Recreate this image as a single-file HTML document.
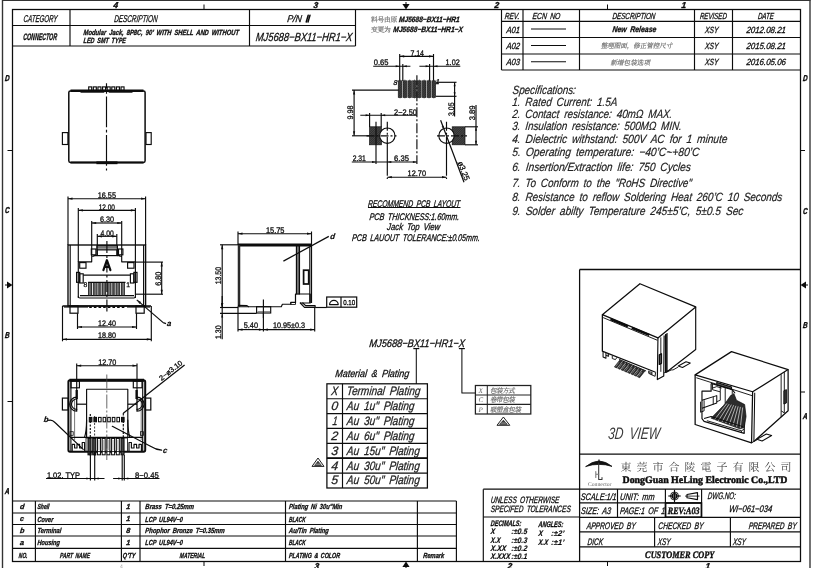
<!DOCTYPE html>
<html><head><meta charset="utf-8"><title>MJ5688-BX11-HR1-X</title>
<style>
html,body{margin:0;padding:0;background:#fff;}
body{width:814px;height:568px;overflow:hidden;font-family:"Liberation Sans",sans-serif;}
svg{display:block;position:absolute;left:0;top:0;filter:grayscale(1);}
text{font-family:"Liberation Sans",sans-serif;}
</style></head><body>
<svg width="814" height="568" viewBox="0 0 814 568" shape-rendering="geometricPrecision" text-rendering="geometricPrecision">
<rect x="0" y="0" width="814" height="568" fill="#ffffff"/>
<line x1="2.5" y1="0" x2="2.5" y2="568" stroke="#333" stroke-width="1.38" />
<line x1="810" y1="0" x2="810" y2="568" stroke="#333" stroke-width="1.38" />
<line x1="2" y1="0.3" x2="810.5" y2="0.3" stroke="#333" stroke-width="1.38" />
<rect x="12.5" y="9.5" width="788.0" height="552.0" fill="none" stroke="#0c0c0c" stroke-width="1.26"/>
<line x1="204" y1="4.5" x2="204" y2="9.5" stroke="#0c0c0c" stroke-width="1.03" />
<line x1="607.5" y1="4.5" x2="607.5" y2="9.5" stroke="#0c0c0c" stroke-width="1.03" />
<polygon points="406,9.5 402.4,4.0 409.6,4.0" fill="#0c0c0c"/>
<line x1="406" y1="2" x2="406" y2="6" stroke="#0c0c0c" stroke-width="1.03" />
<line x1="204" y1="561.5" x2="204" y2="566" stroke="#0c0c0c" stroke-width="1.03" />
<line x1="607.5" y1="561.5" x2="607.5" y2="566" stroke="#0c0c0c" stroke-width="1.03" />
<polygon points="406,561.5 402.4,567.0 409.6,567.0" fill="#0c0c0c"/>
<line x1="406" y1="564" x2="406" y2="568" stroke="#0c0c0c" stroke-width="1.03" />
<line x1="7.5" y1="150.5" x2="12.5" y2="150.5" stroke="#0c0c0c" stroke-width="1.03" />
<line x1="7.5" y1="401.5" x2="12.5" y2="401.5" stroke="#0c0c0c" stroke-width="1.03" />
<line x1="800.5" y1="150.5" x2="805" y2="150.5" stroke="#0c0c0c" stroke-width="1.03" />
<line x1="800.5" y1="392" x2="805" y2="392" stroke="#0c0c0c" stroke-width="1.03" />
<polygon points="12.5,285 7.0,281.6 7.0,288.4" fill="#0c0c0c"/>
<line x1="5" y1="285" x2="9" y2="285" stroke="#0c0c0c" stroke-width="1.03" />
<polygon points="800.5,285 806.0,281.6 806.0,288.4" fill="#0c0c0c"/>
<line x1="804" y1="285" x2="808" y2="285" stroke="#0c0c0c" stroke-width="1.03" />
<text x="113.7" y="8" font-size="8.6" font-weight="bold" font-style="italic" fill="#0c0c0c" text-anchor="start" textLength="4.6" lengthAdjust="spacingAndGlyphs" transform="translate(113.7 4.9) skewX(-6) translate(-113.7 -4.9)" xml:space="preserve"  word-spacing="1.89" stroke="#0c0c0c" stroke-width="0.4">4</text>
<text x="313.7" y="8" font-size="8.6" font-weight="bold" font-style="italic" fill="#0c0c0c" text-anchor="start" textLength="4.6" lengthAdjust="spacingAndGlyphs" transform="translate(313.7 4.9) skewX(-6) translate(-313.7 -4.9)" xml:space="preserve"  word-spacing="1.89" stroke="#0c0c0c" stroke-width="0.4">3</text>
<text x="494.7" y="8" font-size="8.6" font-weight="bold" font-style="italic" fill="#0c0c0c" text-anchor="start" textLength="4.6" lengthAdjust="spacingAndGlyphs" transform="translate(494.7 4.9) skewX(-6) translate(-494.7 -4.9)" xml:space="preserve"  word-spacing="1.89" stroke="#0c0c0c" stroke-width="0.4">2</text>
<text x="681.7" y="8" font-size="8.6" font-weight="bold" font-style="italic" fill="#0c0c0c" text-anchor="start" textLength="4.6" lengthAdjust="spacingAndGlyphs" transform="translate(681.7 4.9) skewX(-6) translate(-681.7 -4.9)" xml:space="preserve"  word-spacing="1.89" stroke="#0c0c0c" stroke-width="0.4">1</text>
<text x="314.7" y="568.6" font-size="8.6" font-weight="bold" font-style="italic" fill="#0c0c0c" text-anchor="start" textLength="4.6" lengthAdjust="spacingAndGlyphs" transform="translate(314.7 565.5) skewX(-6) translate(-314.7 -565.5)" xml:space="preserve"  word-spacing="1.89" stroke="#0c0c0c" stroke-width="0.4">3</text>
<text x="507.7" y="568.6" font-size="8.6" font-weight="bold" font-style="italic" fill="#0c0c0c" text-anchor="start" textLength="4.6" lengthAdjust="spacingAndGlyphs" transform="translate(507.7 565.5) skewX(-6) translate(-507.7 -565.5)" xml:space="preserve"  word-spacing="1.89" stroke="#0c0c0c" stroke-width="0.4">2</text>
<text x="705.7" y="568.6" font-size="8.6" font-weight="bold" font-style="italic" fill="#0c0c0c" text-anchor="start" textLength="4.6" lengthAdjust="spacingAndGlyphs" transform="translate(705.7 565.5) skewX(-6) translate(-705.7 -565.5)" xml:space="preserve"  word-spacing="1.89" stroke="#0c0c0c" stroke-width="0.4">1</text>
<text x="5.0" y="80.5" font-size="8.6" font-weight="bold" font-style="italic" fill="#0c0c0c" text-anchor="start" textLength="4.6" lengthAdjust="spacingAndGlyphs" transform="translate(5.0 77.4) skewX(-6) translate(-5.0 -77.4)" xml:space="preserve"  word-spacing="1.89" stroke="#0c0c0c" stroke-width="0.4">D</text>
<text x="5.0" y="213" font-size="8.6" font-weight="bold" font-style="italic" fill="#0c0c0c" text-anchor="start" textLength="4.6" lengthAdjust="spacingAndGlyphs" transform="translate(5.0 209.9) skewX(-6) translate(-5.0 -209.9)" xml:space="preserve"  word-spacing="1.89" stroke="#0c0c0c" stroke-width="0.4">C</text>
<text x="5.0" y="337.5" font-size="8.6" font-weight="bold" font-style="italic" fill="#0c0c0c" text-anchor="start" textLength="4.6" lengthAdjust="spacingAndGlyphs" transform="translate(5.0 334.4) skewX(-6) translate(-5.0 -334.4)" xml:space="preserve"  word-spacing="1.89" stroke="#0c0c0c" stroke-width="0.4">B</text>
<text x="5.0" y="494" font-size="8.6" font-weight="bold" font-style="italic" fill="#0c0c0c" text-anchor="start" textLength="4.6" lengthAdjust="spacingAndGlyphs" transform="translate(5.0 490.9) skewX(-6) translate(-5.0 -490.9)" xml:space="preserve"  word-spacing="1.89" stroke="#0c0c0c" stroke-width="0.4">A</text>
<text x="803.0" y="80.5" font-size="8.6" font-weight="bold" font-style="italic" fill="#0c0c0c" text-anchor="start" textLength="4.6" lengthAdjust="spacingAndGlyphs" transform="translate(803.0 77.4) skewX(-6) translate(-803.0 -77.4)" xml:space="preserve"  word-spacing="1.89" stroke="#0c0c0c" stroke-width="0.4">D</text>
<text x="803.0" y="213.5" font-size="8.6" font-weight="bold" font-style="italic" fill="#0c0c0c" text-anchor="start" textLength="4.6" lengthAdjust="spacingAndGlyphs" transform="translate(803.0 210.4) skewX(-6) translate(-803.0 -210.4)" xml:space="preserve"  word-spacing="1.89" stroke="#0c0c0c" stroke-width="0.4">C</text>
<text x="803.0" y="328" font-size="8.6" font-weight="bold" font-style="italic" fill="#0c0c0c" text-anchor="start" textLength="4.6" lengthAdjust="spacingAndGlyphs" transform="translate(803.0 324.9) skewX(-6) translate(-803.0 -324.9)" xml:space="preserve"  word-spacing="1.89" stroke="#0c0c0c" stroke-width="0.4">B</text>
<text x="803.0" y="419" font-size="8.6" font-weight="bold" font-style="italic" fill="#0c0c0c" text-anchor="start" textLength="4.6" lengthAdjust="spacingAndGlyphs" transform="translate(803.0 415.9) skewX(-6) translate(-803.0 -415.9)" xml:space="preserve"  word-spacing="1.89" stroke="#0c0c0c" stroke-width="0.4">A</text>
<line x1="12.5" y1="25.5" x2="355.5" y2="25.5" stroke="#0c0c0c" stroke-width="1.15" />
<line x1="12.5" y1="46" x2="355.5" y2="46" stroke="#0c0c0c" stroke-width="1.15" />
<line x1="70" y1="9.5" x2="70" y2="46" stroke="#0c0c0c" stroke-width="1.15" />
<line x1="249.5" y1="9.5" x2="249.5" y2="46" stroke="#0c0c0c" stroke-width="1.15" />
<line x1="355.5" y1="9.5" x2="355.5" y2="46" stroke="#0c0c0c" stroke-width="1.15" />
<text x="23.7" y="22.24" font-size="9.89" font-weight="normal" font-style="italic" fill="#0c0c0c" text-anchor="start" textLength="33.8" lengthAdjust="spacingAndGlyphs" transform="translate(23.7 18.68) skewX(-6) translate(-23.7 -18.68)" xml:space="preserve"  word-spacing="2.18" stroke="#0c0c0c" stroke-width="0.28">CATEGORY</text>
<text x="114.4" y="22.24" font-size="9.89" font-weight="normal" font-style="italic" fill="#0c0c0c" text-anchor="start" textLength="43.3" lengthAdjust="spacingAndGlyphs" transform="translate(114.4 18.68) skewX(-6) translate(-114.4 -18.68)" xml:space="preserve"  word-spacing="2.18" stroke="#0c0c0c" stroke-width="0.28">DESCRIPTION</text>
<text x="287.3" y="22.24" font-size="9.89" font-weight="normal" font-style="italic" fill="#0c0c0c" text-anchor="start" textLength="14.5" lengthAdjust="spacingAndGlyphs" transform="translate(287.3 18.68) skewX(-6) translate(-287.3 -18.68)" xml:space="preserve"  word-spacing="2.18" stroke="#0c0c0c" stroke-width="0.28">P/N</text>
<path d="M306.2 22 L308.2 15.2 M308 22 L310 15.2" fill="none" stroke="#0c0c0c" stroke-width="1.49" stroke-linejoin="round" stroke-linecap="round"/>
<text x="23.3" y="40.18" font-size="9.43" font-weight="bold" font-style="italic" fill="#0c0c0c" text-anchor="start" textLength="33.8" lengthAdjust="spacingAndGlyphs" transform="translate(23.3 36.79) skewX(-6) translate(-23.3 -36.79)" xml:space="preserve"  word-spacing="2.07" stroke="#0c0c0c" stroke-width="0.3">CONNECTOR</text>
<text x="83.6" y="35.12" font-size="7.59" font-weight="bold" font-style="italic" fill="#0c0c0c" text-anchor="start" textLength="155.4" lengthAdjust="spacingAndGlyphs" transform="translate(83.6 32.39) skewX(-6) translate(-83.6 -32.39)" xml:space="preserve"  word-spacing="1.67" stroke="#0c0c0c" stroke-width="0.3">Modular Jack, 8P8C, 90’ WITH SHELL AND WITHOUT</text>
<text x="83.6" y="43.12" font-size="7.59" font-weight="bold" font-style="italic" fill="#0c0c0c" text-anchor="start" textLength="42.4" lengthAdjust="spacingAndGlyphs" transform="translate(83.6 40.39) skewX(-6) translate(-83.6 -40.39)" xml:space="preserve"  word-spacing="1.67" stroke="#0c0c0c" stroke-width="0.3">LED SMT TYPE</text>
<text x="256" y="40.7" font-size="11.73" font-weight="normal" font-style="italic" fill="#0c0c0c" text-anchor="start" textLength="96.5" lengthAdjust="spacingAndGlyphs" transform="translate(256 36.48) skewX(-6) translate(-256 -36.48)" xml:space="preserve"  word-spacing="2.58" stroke="#0c0c0c" stroke-width="0.28">MJ5688−BX11−HR1−X</text>
<text x="371 377.5 384 390.5" y="22" font-size="6.8" fill="#777" stroke="#777" stroke-width="0.2" style="font-family:'Liberation Serif','Noto Serif CJK SC',serif">料号由原</text>
<text x="399" y="22.2" font-size="7.82" font-weight="bold" font-style="italic" fill="#0c0c0c" text-anchor="start" textLength="60.8" lengthAdjust="spacingAndGlyphs" transform="translate(399 19.38) skewX(-6) translate(-399 -19.38)" xml:space="preserve"  word-spacing="1.72" stroke="#0c0c0c" stroke-width="0.3">MJ5688−BX11−HR1</text>
<text x="371 377.5 384" y="31.6" font-size="6.8" fill="#777" stroke="#777" stroke-width="0.2" style="font-family:'Liberation Serif','Noto Serif CJK SC',serif">变更为</text>
<text x="393.4" y="31.8" font-size="7.82" font-weight="bold" font-style="italic" fill="#0c0c0c" text-anchor="start" textLength="69.6" lengthAdjust="spacingAndGlyphs" transform="translate(393.4 28.98) skewX(-6) translate(-393.4 -28.98)" xml:space="preserve"  word-spacing="1.72" stroke="#0c0c0c" stroke-width="0.3">MJ5688−BX11−HR1−X</text>
<line x1="501.5" y1="9.5" x2="501.5" y2="70" stroke="#0c0c0c" stroke-width="1.15" />
<line x1="501.5" y1="70" x2="800.5" y2="70" stroke="#0c0c0c" stroke-width="1.15" />
<line x1="501.5" y1="21.3" x2="800.5" y2="21.3" stroke="#0c0c0c" stroke-width="1.15" />
<line x1="501.5" y1="37.5" x2="800.5" y2="37.5" stroke="#0c0c0c" stroke-width="1.15" />
<line x1="501.5" y1="54" x2="800.5" y2="54" stroke="#0c0c0c" stroke-width="1.15" />
<line x1="523" y1="9.5" x2="523" y2="70" stroke="#0c0c0c" stroke-width="1.15" />
<line x1="579.5" y1="9.5" x2="579.5" y2="70" stroke="#0c0c0c" stroke-width="1.15" />
<line x1="694.5" y1="9.5" x2="694.5" y2="70" stroke="#0c0c0c" stroke-width="1.15" />
<line x1="732.5" y1="9.5" x2="732.5" y2="70" stroke="#0c0c0c" stroke-width="1.15" />
<text x="504.8" y="19.13" font-size="8.74" font-weight="normal" font-style="italic" fill="#0c0c0c" text-anchor="start" textLength="14.9" lengthAdjust="spacingAndGlyphs" transform="translate(504.8 15.98) skewX(-6) translate(-504.8 -15.98)" xml:space="preserve"  word-spacing="1.92" stroke="#0c0c0c" stroke-width="0.28">REV.</text>
<text x="532.5" y="19.13" font-size="8.74" font-weight="normal" font-style="italic" fill="#0c0c0c" text-anchor="start" textLength="28.0" lengthAdjust="spacingAndGlyphs" transform="translate(532.5 15.98) skewX(-6) translate(-532.5 -15.98)" xml:space="preserve"  word-spacing="1.92" stroke="#0c0c0c" stroke-width="0.28">ECN NO</text>
<text x="612.5" y="19.13" font-size="8.74" font-weight="normal" font-style="italic" fill="#0c0c0c" text-anchor="start" textLength="43.0" lengthAdjust="spacingAndGlyphs" transform="translate(612.5 15.98) skewX(-6) translate(-612.5 -15.98)" xml:space="preserve"  word-spacing="1.92" stroke="#0c0c0c" stroke-width="0.28">DESCRIPTION</text>
<text x="700" y="19.13" font-size="8.74" font-weight="normal" font-style="italic" fill="#0c0c0c" text-anchor="start" textLength="27" lengthAdjust="spacingAndGlyphs" transform="translate(700 15.98) skewX(-6) translate(-700 -15.98)" xml:space="preserve"  word-spacing="1.92" stroke="#0c0c0c" stroke-width="0.28">REVISED</text>
<text x="758" y="19.13" font-size="8.74" font-weight="normal" font-style="italic" fill="#0c0c0c" text-anchor="start" textLength="16" lengthAdjust="spacingAndGlyphs" transform="translate(758 15.98) skewX(-6) translate(-758 -15.98)" xml:space="preserve"  word-spacing="1.92" stroke="#0c0c0c" stroke-width="0.28">DATE</text>
<text x="506.5" y="32.71" font-size="8.97" font-weight="normal" font-style="italic" fill="#0c0c0c" text-anchor="start" textLength="13.5" lengthAdjust="spacingAndGlyphs" transform="translate(506.5 29.48) skewX(-6) translate(-506.5 -29.48)" xml:space="preserve"  word-spacing="1.97" stroke="#0c0c0c" stroke-width="0.28">A01</text>
<line x1="531" y1="29.0" x2="566" y2="29.0" stroke="#0c0c0c" stroke-width="1.15" />
<text x="705" y="32.71" font-size="8.97" font-weight="normal" font-style="italic" fill="#0c0c0c" text-anchor="start" textLength="13.5" lengthAdjust="spacingAndGlyphs" transform="translate(705 29.48) skewX(-6) translate(-705 -29.48)" xml:space="preserve"  word-spacing="1.97" stroke="#0c0c0c" stroke-width="0.28">XSY</text>
<text x="746.5" y="32.71" font-size="8.97" font-weight="normal" font-style="italic" fill="#0c0c0c" text-anchor="start" textLength="39.5" lengthAdjust="spacingAndGlyphs" transform="translate(746.5 29.48) skewX(-6) translate(-746.5 -29.48)" xml:space="preserve"  word-spacing="1.97" stroke="#0c0c0c" stroke-width="0.28">2012.08.21</text>
<text x="506.5" y="49.21" font-size="8.97" font-weight="normal" font-style="italic" fill="#0c0c0c" text-anchor="start" textLength="13.5" lengthAdjust="spacingAndGlyphs" transform="translate(506.5 45.98) skewX(-6) translate(-506.5 -45.98)" xml:space="preserve"  word-spacing="1.97" stroke="#0c0c0c" stroke-width="0.28">A02</text>
<line x1="531" y1="45.5" x2="566" y2="45.5" stroke="#0c0c0c" stroke-width="1.15" />
<text x="705" y="49.21" font-size="8.97" font-weight="normal" font-style="italic" fill="#0c0c0c" text-anchor="start" textLength="13.5" lengthAdjust="spacingAndGlyphs" transform="translate(705 45.98) skewX(-6) translate(-705 -45.98)" xml:space="preserve"  word-spacing="1.97" stroke="#0c0c0c" stroke-width="0.28">XSY</text>
<text x="746.5" y="49.21" font-size="8.97" font-weight="normal" font-style="italic" fill="#0c0c0c" text-anchor="start" textLength="39.5" lengthAdjust="spacingAndGlyphs" transform="translate(746.5 45.98) skewX(-6) translate(-746.5 -45.98)" xml:space="preserve"  word-spacing="1.97" stroke="#0c0c0c" stroke-width="0.28">2015.08.21</text>
<text x="506.5" y="65.41" font-size="8.97" font-weight="normal" font-style="italic" fill="#0c0c0c" text-anchor="start" textLength="13.5" lengthAdjust="spacingAndGlyphs" transform="translate(506.5 62.18) skewX(-6) translate(-506.5 -62.18)" xml:space="preserve"  word-spacing="1.97" stroke="#0c0c0c" stroke-width="0.28">A03</text>
<line x1="531" y1="61.7" x2="566" y2="61.7" stroke="#0c0c0c" stroke-width="1.15" />
<text x="705" y="65.41" font-size="8.97" font-weight="normal" font-style="italic" fill="#0c0c0c" text-anchor="start" textLength="13.5" lengthAdjust="spacingAndGlyphs" transform="translate(705 62.18) skewX(-6) translate(-705 -62.18)" xml:space="preserve"  word-spacing="1.97" stroke="#0c0c0c" stroke-width="0.28">XSY</text>
<text x="746.5" y="65.41" font-size="8.97" font-weight="normal" font-style="italic" fill="#0c0c0c" text-anchor="start" textLength="39.5" lengthAdjust="spacingAndGlyphs" transform="translate(746.5 62.18) skewX(-6) translate(-746.5 -62.18)" xml:space="preserve"  word-spacing="1.97" stroke="#0c0c0c" stroke-width="0.28">2016.05.06</text>
<text x="612.5" y="32.26" font-size="8.28" font-weight="bold" font-style="italic" fill="#0c0c0c" text-anchor="start" textLength="44.0" lengthAdjust="spacingAndGlyphs" transform="translate(612.5 29.28) skewX(-6) translate(-612.5 -29.28)" xml:space="preserve"  word-spacing="1.82" stroke="#0c0c0c" stroke-width="0.3">New Release</text>
<text transform="translate(600.8 48.4) skewX(-12)" x="0 6.5 13 19.5 26 32.5 39 45.5 52 58.5 65" y="0" font-size="6.6" fill="#777" stroke="#777" stroke-width="0.2" style="font-family:'Liberation Serif','Noto Serif CJK SC',serif">整理图面，修正管控尺寸</text>
<text transform="translate(610.4 64.8) skewX(-12)" x="0 6.6 13.2 19.8 26.4 33" y="0" font-size="6.6" fill="#777" stroke="#777" stroke-width="0.2" style="font-family:'Liberation Serif','Noto Serif CJK SC',serif">新增包装选项</text>
<text x="512.8" y="94.06" font-size="11.9" font-weight="normal" font-style="italic" fill="#222" text-anchor="start" textLength="63.2" lengthAdjust="spacingAndGlyphs" transform="translate(512.8 89.78) skewX(-6) translate(-512.8 -89.78)" xml:space="preserve"  word-spacing="2.62" stroke="#222" stroke-width="0.2">Specifications:</text>
<text x="512.4" y="106.16" font-size="11.9" font-weight="normal" font-style="italic" fill="#222" text-anchor="start" textLength="105.1" lengthAdjust="spacingAndGlyphs" transform="translate(512.4 101.88) skewX(-6) translate(-512.4 -101.88)" xml:space="preserve"  word-spacing="2.62" stroke="#222" stroke-width="0.2">1. Rated Current: 1.5A</text>
<text x="512.4" y="117.96" font-size="11.9" font-weight="normal" font-style="italic" fill="#222" text-anchor="start" textLength="160.1" lengthAdjust="spacingAndGlyphs" transform="translate(512.4 113.68) skewX(-6) translate(-512.4 -113.68)" xml:space="preserve"  word-spacing="2.62" stroke="#222" stroke-width="0.2">2. Contact resistance: 40mΩ MAX.</text>
<text x="512.4" y="130.16" font-size="11.9" font-weight="normal" font-style="italic" fill="#222" text-anchor="start" textLength="169.6" lengthAdjust="spacingAndGlyphs" transform="translate(512.4 125.88) skewX(-6) translate(-512.4 -125.88)" xml:space="preserve"  word-spacing="2.62" stroke="#222" stroke-width="0.2">3. Insulation resistance: 500MΩ MIN.</text>
<text x="512.4" y="142.86" font-size="11.9" font-weight="normal" font-style="italic" fill="#222" text-anchor="start" textLength="215.1" lengthAdjust="spacingAndGlyphs" transform="translate(512.4 138.58) skewX(-6) translate(-512.4 -138.58)" xml:space="preserve"  word-spacing="2.62" stroke="#222" stroke-width="0.2">4. Dielectric withstand: 500V AC for 1 minute</text>
<text x="512.4" y="155.56" font-size="11.9" font-weight="normal" font-style="italic" fill="#222" text-anchor="start" textLength="187.1" lengthAdjust="spacingAndGlyphs" transform="translate(512.4 151.28) skewX(-6) translate(-512.4 -151.28)" xml:space="preserve"  word-spacing="2.62" stroke="#222" stroke-width="0.2">5. Operating temperature: −40’C~+80’C</text>
<text x="512.4" y="171.06" font-size="11.9" font-weight="normal" font-style="italic" fill="#222" text-anchor="start" textLength="178.6" lengthAdjust="spacingAndGlyphs" transform="translate(512.4 166.78) skewX(-6) translate(-512.4 -166.78)" xml:space="preserve"  word-spacing="2.62" stroke="#222" stroke-width="0.2">6. Insertion/Extraction life: 750 Cycles</text>
<text x="512.4" y="186.56" font-size="11.9" font-weight="normal" font-style="italic" fill="#222" text-anchor="start" textLength="179.6" lengthAdjust="spacingAndGlyphs" transform="translate(512.4 182.28) skewX(-6) translate(-512.4 -182.28)" xml:space="preserve"  word-spacing="2.62" stroke="#222" stroke-width="0.2">7. To Conform to the &quot;RoHS Directive&quot;</text>
<text x="512.4" y="200.86" font-size="11.9" font-weight="normal" font-style="italic" fill="#222" text-anchor="start" textLength="270.1" lengthAdjust="spacingAndGlyphs" transform="translate(512.4 196.58) skewX(-6) translate(-512.4 -196.58)" xml:space="preserve"  word-spacing="2.62" stroke="#222" stroke-width="0.2">8. Resistance to reflow Soldering Heat 260’C 10 Seconds</text>
<text x="512.4" y="214.56" font-size="11.9" font-weight="normal" font-style="italic" fill="#222" text-anchor="start" textLength="231.1" lengthAdjust="spacingAndGlyphs" transform="translate(512.4 210.28) skewX(-6) translate(-512.4 -210.28)" xml:space="preserve"  word-spacing="2.62" stroke="#222" stroke-width="0.2">9. Solder abilty Temperature 245±5’C, 5±0.5 Sec</text>
<text x="368.1" y="206.86" font-size="9.66" font-weight="normal" font-style="italic" fill="#0c0c0c" text-anchor="start" textLength="92.2" lengthAdjust="spacingAndGlyphs" transform="translate(368.1 203.38) skewX(-6) translate(-368.1 -203.38)" xml:space="preserve"  word-spacing="2.13" stroke="#0c0c0c" stroke-width="0.28">RECOMMEND PCB LAYOUT</text>
<line x1="368" y1="207.5" x2="460.5" y2="207.5" stroke="#0c0c0c" stroke-width="1.03" />
<text x="369.5" y="219.56" font-size="9.66" font-weight="normal" font-style="italic" fill="#0c0c0c" text-anchor="start" textLength="89.8" lengthAdjust="spacingAndGlyphs" transform="translate(369.5 216.08) skewX(-6) translate(-369.5 -216.08)" xml:space="preserve"  word-spacing="2.13" stroke="#0c0c0c" stroke-width="0.28">PCB THICKNESS:1.60mm.</text>
<text x="387.2" y="229.86" font-size="9.66" font-weight="normal" font-style="italic" fill="#0c0c0c" text-anchor="start" textLength="53.0" lengthAdjust="spacingAndGlyphs" transform="translate(387.2 226.38) skewX(-6) translate(-387.2 -226.38)" xml:space="preserve"  word-spacing="2.13" stroke="#0c0c0c" stroke-width="0.28">Jack Top View</text>
<text x="352.2" y="240.66" font-size="9.66" font-weight="normal" font-style="italic" fill="#0c0c0c" text-anchor="start" textLength="127.8" lengthAdjust="spacingAndGlyphs" transform="translate(352.2 237.18) skewX(-6) translate(-352.2 -237.18)" xml:space="preserve"  word-spacing="2.13" stroke="#0c0c0c" stroke-width="0.28">PCB LAUOUT TOLERANCE:±0.05mm.</text>
<rect x="68.8" y="90.9" width="76.3" height="71.5" rx="1.6" fill="none" stroke="#0c0c0c" stroke-width="1.5"/>
<line x1="70.5" y1="90.7" x2="143.5" y2="90.7" stroke="#0c0c0c" stroke-width="2.53" />
<line x1="70.5" y1="162.5" x2="143.5" y2="162.5" stroke="#0c0c0c" stroke-width="1.84" />
<line x1="80.5" y1="91.8" x2="104.3" y2="91.8" stroke="#0c0c0c" stroke-width="1.84" />
<line x1="108.7" y1="91.8" x2="132.5" y2="91.8" stroke="#0c0c0c" stroke-width="1.84" />
<line x1="96.4" y1="162.8" x2="117.5" y2="162.8" stroke="#0c0c0c" stroke-width="2.76" />
<rect x="88.7" y="86.9" width="3.0" height="3.5" fill="none" stroke="#0c0c0c" stroke-width="1.15"/>
<rect x="93.32000000000001" y="86.9" width="3.0" height="3.5" fill="none" stroke="#0c0c0c" stroke-width="1.15"/>
<rect x="97.94" y="86.9" width="3.0" height="3.5" fill="none" stroke="#0c0c0c" stroke-width="1.15"/>
<rect x="102.56" y="86.9" width="3.0" height="3.5" fill="none" stroke="#0c0c0c" stroke-width="1.15"/>
<rect x="107.18" y="86.9" width="3.0" height="3.5" fill="none" stroke="#0c0c0c" stroke-width="1.15"/>
<rect x="111.80000000000001" y="86.9" width="3.0" height="3.5" fill="none" stroke="#0c0c0c" stroke-width="1.15"/>
<rect x="116.42" y="86.9" width="3.0" height="3.5" fill="none" stroke="#0c0c0c" stroke-width="1.15"/>
<rect x="121.04" y="86.9" width="3.0" height="3.5" fill="none" stroke="#0c0c0c" stroke-width="1.15"/>
<rect x="62.4" y="132.6" width="5.5" height="11.9" fill="none" stroke="#0c0c0c" stroke-width="1.15"/>
<rect x="146.0" y="132.6" width="5.2" height="11.9" fill="none" stroke="#0c0c0c" stroke-width="1.15"/>
<line x1="106.5" y1="83.3" x2="106.5" y2="170.5" stroke="#0c0c0c" stroke-width="1.15" stroke-dasharray="30.8 2.6 2.6 2.6" stroke-dashoffset="25.5"/>
<line x1="68" y1="198.7" x2="145.6" y2="198.7" stroke="#0c0c0c" stroke-width="1.15" />
<polygon points="68,198.7 72.5,197.6 72.5,199.79999999999998" fill="#0c0c0c"/>
<polygon points="145.6,198.7 141.1,197.6 141.1,199.79999999999998" fill="#0c0c0c"/>
<text x="97.7" y="198.06" font-size="8.0" font-weight="normal" font-style="normal" fill="#0c0c0c" text-anchor="start" textLength="18.3" lengthAdjust="spacingAndGlyphs" xml:space="preserve"  stroke="#0c0c0c" stroke-width="0.3">16.55</text>
<line x1="78.3" y1="210.3" x2="135.4" y2="210.3" stroke="#0c0c0c" stroke-width="1.15" />
<polygon points="78.3,210.3 82.8,209.20000000000002 82.8,211.4" fill="#0c0c0c"/>
<polygon points="135.4,210.3 130.9,209.20000000000002 130.9,211.4" fill="#0c0c0c"/>
<text x="98.7" y="209.66" font-size="8.0" font-weight="normal" font-style="normal" fill="#0c0c0c" text-anchor="start" textLength="16.3" lengthAdjust="spacingAndGlyphs" xml:space="preserve"  stroke="#0c0c0c" stroke-width="0.3">12.00</text>
<line x1="91.7" y1="223" x2="121.7" y2="223" stroke="#0c0c0c" stroke-width="1.15" />
<polygon points="91.7,223 96.2,221.9 96.2,224.1" fill="#0c0c0c"/>
<polygon points="121.7,223 117.2,221.9 117.2,224.1" fill="#0c0c0c"/>
<text x="99.9" y="222.36" font-size="8.0" font-weight="normal" font-style="normal" fill="#0c0c0c" text-anchor="start" textLength="14.1" lengthAdjust="spacingAndGlyphs" xml:space="preserve"  stroke="#0c0c0c" stroke-width="0.3">6.30</text>
<line x1="97.3" y1="236.3" x2="116.8" y2="236.3" stroke="#0c0c0c" stroke-width="1.15" />
<polygon points="97.3,236.3 101.8,235.20000000000002 101.8,237.4" fill="#0c0c0c"/>
<polygon points="116.8,236.3 112.3,235.20000000000002 112.3,237.4" fill="#0c0c0c"/>
<text x="100.6" y="235.66" font-size="8.0" font-weight="normal" font-style="normal" fill="#0c0c0c" text-anchor="start" textLength="13.2" lengthAdjust="spacingAndGlyphs" xml:space="preserve"  stroke="#0c0c0c" stroke-width="0.3">4.00</text>
<line x1="68" y1="196.5" x2="68" y2="245" stroke="#0c0c0c" stroke-width="1.15" />
<line x1="145.6" y1="196.5" x2="145.6" y2="245" stroke="#0c0c0c" stroke-width="1.15" />
<line x1="78.3" y1="208" x2="78.3" y2="262" stroke="#0c0c0c" stroke-width="1.15" />
<line x1="135.4" y1="208" x2="135.4" y2="262" stroke="#0c0c0c" stroke-width="1.15" />
<line x1="91.7" y1="221" x2="91.7" y2="256" stroke="#0c0c0c" stroke-width="1.15" />
<line x1="121.7" y1="221" x2="121.7" y2="256" stroke="#0c0c0c" stroke-width="1.15" />
<line x1="97.3" y1="234" x2="97.3" y2="256" stroke="#0c0c0c" stroke-width="1.15" />
<line x1="116.8" y1="234" x2="116.8" y2="256" stroke="#0c0c0c" stroke-width="1.15" />
<rect x="68" y="245" width="77.6" height="61" fill="none" stroke="#0c0c0c" stroke-width="1.38"/>
<line x1="70.2" y1="245" x2="70.2" y2="306" stroke="#0c0c0c" stroke-width="1.15" />
<line x1="143.6" y1="245" x2="143.6" y2="306" stroke="#0c0c0c" stroke-width="1.15" />
<line x1="62.5" y1="306" x2="151" y2="306" stroke="#0c0c0c" stroke-width="1.26" />
<rect x="97.2" y="245.6" width="20.0" height="4.4" fill="#555" stroke="#0c0c0c" stroke-width="0.92"/>
<line x1="97.2" y1="247" x2="117.2" y2="247" stroke="#bbb" stroke-width="0.69" />
<line x1="97.2" y1="248.6" x2="117.2" y2="248.6" stroke="#bbb" stroke-width="0.69" />
<path d="M78.3 298 L78.3 261.8 L91.7 261.8 L91.7 256.2 L93.8 256.2 L93.8 255.6 L97 255.6 L97 245.5" fill="none" stroke="#0c0c0c" stroke-width="1.15" stroke-linejoin="round"/>
<path d="M135.4 298 L135.4 261.8 L121.7 261.8 L121.7 256.2 L119.8 256.2 L119.8 255.6 L117.4 255.6 L117.4 245.5" fill="none" stroke="#0c0c0c" stroke-width="1.15" stroke-linejoin="round"/>
<line x1="97" y1="255.6" x2="117.4" y2="255.6" stroke="#0c0c0c" stroke-width="1.21" />
<rect x="91.3" y="249" width="4.6" height="5.8" fill="none" stroke="#0c0c0c" stroke-width="1.15"/>
<rect x="118.5" y="249" width="4.4" height="5.8" fill="none" stroke="#0c0c0c" stroke-width="1.15"/>
<rect x="79.7" y="262.6" width="6.3" height="5.6" fill="none" stroke="#0c0c0c" stroke-width="1.15"/>
<rect x="127.6" y="262.6" width="6.4" height="5.6" fill="none" stroke="#0c0c0c" stroke-width="1.15"/>
<path d="M78.3 296.5 Q78.3 298 80 298 L133.8 298 Q135.4 298 135.4 296.5" fill="none" stroke="#0c0c0c" stroke-width="1.15" stroke-linejoin="round" stroke-linecap="round"/>
<line x1="80" y1="295.6" x2="134" y2="295.6" stroke="#0c0c0c" stroke-width="1.21" />
<rect x="76.6" y="272.4" width="3.1" height="9.9" fill="none" stroke="#0c0c0c" stroke-width="1.21"/>
<rect x="79.7" y="273.8" width="3.5" height="9.2" fill="none" stroke="#0c0c0c" stroke-width="1.15"/>
<rect x="133.9" y="272.4" width="3.1" height="9.9" fill="none" stroke="#0c0c0c" stroke-width="1.21"/>
<rect x="130.4" y="273.8" width="3.5" height="9.2" fill="none" stroke="#0c0c0c" stroke-width="1.15"/>
<line x1="83.2" y1="275.2" x2="130.4" y2="275.2" stroke="#0c0c0c" stroke-width="1.21" />
<rect x="88.6" y="282.6" width="3.0" height="12.8" fill="#9a9a9a" stroke="#0c0c0c" stroke-width="0.8"/>
<line x1="90.1" y1="283" x2="90.1" y2="295" stroke="#333" stroke-width="0.8" />
<rect x="93.28" y="282.6" width="3.0" height="12.8" fill="#9a9a9a" stroke="#0c0c0c" stroke-width="0.8"/>
<line x1="94.78" y1="283" x2="94.78" y2="295" stroke="#333" stroke-width="0.8" />
<rect x="97.96" y="282.6" width="3.0" height="12.8" fill="#9a9a9a" stroke="#0c0c0c" stroke-width="0.8"/>
<line x1="99.46" y1="283" x2="99.46" y2="295" stroke="#333" stroke-width="0.8" />
<rect x="102.63999999999999" y="282.6" width="3.0" height="12.8" fill="#9a9a9a" stroke="#0c0c0c" stroke-width="0.8"/>
<line x1="104.13999999999999" y1="283" x2="104.13999999999999" y2="295" stroke="#333" stroke-width="0.8" />
<rect x="107.32" y="282.6" width="3.0" height="12.8" fill="#9a9a9a" stroke="#0c0c0c" stroke-width="0.8"/>
<line x1="108.82" y1="283" x2="108.82" y2="295" stroke="#333" stroke-width="0.8" />
<rect x="112.0" y="282.6" width="3.0" height="12.8" fill="#9a9a9a" stroke="#0c0c0c" stroke-width="0.8"/>
<line x1="113.5" y1="283" x2="113.5" y2="295" stroke="#333" stroke-width="0.8" />
<rect x="116.67999999999999" y="282.6" width="3.0" height="12.8" fill="#9a9a9a" stroke="#0c0c0c" stroke-width="0.8"/>
<line x1="118.17999999999999" y1="283" x2="118.17999999999999" y2="295" stroke="#333" stroke-width="0.8" />
<rect x="121.35999999999999" y="282.6" width="3.0" height="12.8" fill="#9a9a9a" stroke="#0c0c0c" stroke-width="0.8"/>
<line x1="122.85999999999999" y1="283" x2="122.85999999999999" y2="295" stroke="#333" stroke-width="0.8" />
<line x1="88" y1="282.4" x2="125.5" y2="282.4" stroke="#0c0c0c" stroke-width="1.15" />
<text x="83.4" y="286.8" font-size="6.8" font-weight="normal" font-style="normal" fill="#0c0c0c" text-anchor="start" xml:space="preserve"  stroke="#0c0c0c" stroke-width="0.25">8</text>
<text x="126.2" y="286.8" font-size="6.8" font-weight="normal" font-style="normal" fill="#0c0c0c" text-anchor="start" xml:space="preserve"  stroke="#0c0c0c" stroke-width="0.25">1</text>
<path d="M103.4 270.2 L106.9 260.2 L110.4 270.2 M104.6 267 L109.2 267" fill="none" stroke="#0c0c0c" stroke-width="2.18" stroke-linejoin="round" stroke-linecap="round"/>
<line x1="106.9" y1="241" x2="106.9" y2="312" stroke="#0c0c0c" stroke-width="1.15" stroke-dasharray="12 2.5 2.5 2.5"/>
<rect x="70" y="306" width="8" height="7.2" fill="none" stroke="#0c0c0c" stroke-width="1.21"/>
<rect x="136" y="306" width="8.2" height="7.2" fill="none" stroke="#0c0c0c" stroke-width="1.21"/>
<line x1="89.2" y1="307.2" x2="91.8" y2="307.2" stroke="#0c0c0c" stroke-width="1.61" />
<line x1="93.85000000000001" y1="307.2" x2="96.45" y2="307.2" stroke="#0c0c0c" stroke-width="1.61" />
<line x1="98.5" y1="307.2" x2="101.1" y2="307.2" stroke="#0c0c0c" stroke-width="1.61" />
<line x1="103.15" y1="307.2" x2="105.75" y2="307.2" stroke="#0c0c0c" stroke-width="1.61" />
<line x1="107.80000000000001" y1="307.2" x2="110.4" y2="307.2" stroke="#0c0c0c" stroke-width="1.61" />
<line x1="112.45" y1="307.2" x2="115.05" y2="307.2" stroke="#0c0c0c" stroke-width="1.61" />
<line x1="117.10000000000001" y1="307.2" x2="119.7" y2="307.2" stroke="#0c0c0c" stroke-width="1.61" />
<line x1="121.75" y1="307.2" x2="124.35" y2="307.2" stroke="#0c0c0c" stroke-width="1.61" />
<line x1="64" y1="307.0" x2="88" y2="307.0" stroke="#0c0c0c" stroke-width="1.15" />
<line x1="127" y1="307" x2="150" y2="307" stroke="#0c0c0c" stroke-width="1.15" />
<line x1="135.4" y1="262.1" x2="163" y2="262.1" stroke="#0c0c0c" stroke-width="1.15" />
<line x1="135.4" y1="294.2" x2="163" y2="294.2" stroke="#0c0c0c" stroke-width="1.15" />
<line x1="161.7" y1="262.1" x2="161.7" y2="294.2" stroke="#0c0c0c" stroke-width="1.15" />
<polygon points="161.7,262.1 160.6,266.6 162.79999999999998,266.6" fill="#0c0c0c"/>
<polygon points="161.7,294.2 160.6,289.7 162.79999999999998,289.7" fill="#0c0c0c"/>
<text x="161.06" y="285.8" transform="rotate(-90 161.06 285.8)" font-size="8.0" fill="#0c0c0c" stroke="#0c0c0c" stroke-width="0.3" textLength="14.1" lengthAdjust="spacingAndGlyphs">6.80</text>
<line x1="136.8" y1="299.9" x2="163.2" y2="322.6" stroke="#0c0c0c" stroke-width="1.21" />
<line x1="163.2" y1="322.6" x2="166" y2="323.6" stroke="#0c0c0c" stroke-width="1.21" />
<polygon points="136.8,299.9 141.2,302.1 139.6,303.9" fill="#1a1a1a"/>
<text x="167.0" y="326.4" font-size="7.8" font-weight="bold" font-style="italic" fill="#0c0c0c" text-anchor="start" transform="translate(167.0 323.59) skewX(-6) translate(-167.0 -323.59)" xml:space="preserve"  word-spacing="1.72" stroke="#0c0c0c" stroke-width="0.2">a</text>
<line x1="77.5" y1="327" x2="136.5" y2="327" stroke="#0c0c0c" stroke-width="1.15" />
<polygon points="77.5,327 82.0,325.9 82.0,328.1" fill="#0c0c0c"/>
<polygon points="136.5,327 132.0,325.9 132.0,328.1" fill="#0c0c0c"/>
<text x="98.1" y="326.06" font-size="8.0" font-weight="normal" font-style="normal" fill="#0c0c0c" text-anchor="start" textLength="17.9" lengthAdjust="spacingAndGlyphs" xml:space="preserve"  stroke="#0c0c0c" stroke-width="0.3">12.40</text>
<line x1="62.5" y1="339.3" x2="151.3" y2="339.3" stroke="#0c0c0c" stroke-width="1.15" />
<polygon points="62.5,339.3 67.0,338.2 67.0,340.40000000000003" fill="#0c0c0c"/>
<polygon points="151.3,339.3 146.8,338.2 146.8,340.40000000000003" fill="#0c0c0c"/>
<text x="98.1" y="338.36" font-size="8.0" font-weight="normal" font-style="normal" fill="#0c0c0c" text-anchor="start" textLength="17.9" lengthAdjust="spacingAndGlyphs" xml:space="preserve"  stroke="#0c0c0c" stroke-width="0.3">18.80</text>
<line x1="77.5" y1="313.2" x2="77.5" y2="329" stroke="#0c0c0c" stroke-width="1.15" />
<line x1="136.5" y1="313.2" x2="136.5" y2="329" stroke="#0c0c0c" stroke-width="1.15" />
<line x1="62.5" y1="306" x2="62.5" y2="341.3" stroke="#0c0c0c" stroke-width="1.15" />
<line x1="151.3" y1="306" x2="151.3" y2="341.3" stroke="#0c0c0c" stroke-width="1.15" />
<line x1="76.7" y1="365.7" x2="137" y2="365.7" stroke="#0c0c0c" stroke-width="1.15" />
<polygon points="76.7,365.7 81.2,364.59999999999997 81.2,366.8" fill="#0c0c0c"/>
<polygon points="137,365.7 132.5,364.59999999999997 132.5,366.8" fill="#0c0c0c"/>
<text x="98.2" y="365.16" font-size="8.0" font-weight="normal" font-style="normal" fill="#0c0c0c" text-anchor="start" textLength="18.1" lengthAdjust="spacingAndGlyphs" xml:space="preserve"  stroke="#0c0c0c" stroke-width="0.3">12.70</text>
<line x1="76.7" y1="363.5" x2="76.7" y2="397" stroke="#0c0c0c" stroke-width="1.15" />
<line x1="137" y1="363.5" x2="137" y2="397" stroke="#0c0c0c" stroke-width="1.15" />
<rect x="68.4" y="380.2" width="76.8" height="71.5" rx="1.6" fill="none" stroke="#0c0c0c" stroke-width="2.0"/>
<line x1="69.5" y1="380.2" x2="144" y2="380.2" stroke="#0c0c0c" stroke-width="2.99" />
<line x1="70.9" y1="381" x2="70.9" y2="451" stroke="#0c0c0c" stroke-width="1.15" />
<line x1="142.7" y1="381" x2="142.7" y2="451" stroke="#0c0c0c" stroke-width="1.15" />
<line x1="74.6" y1="399" x2="74.6" y2="440" stroke="#555" stroke-width="0.8" />
<line x1="141.2" y1="399" x2="141.2" y2="440" stroke="#555" stroke-width="0.8" />
<rect x="71" y="381.2" width="8.4" height="6.6" fill="none" stroke="#0c0c0c" stroke-width="1.15"/>
<rect x="133.3" y="381.2" width="8.7" height="6.6" fill="none" stroke="#0c0c0c" stroke-width="1.15"/>
<rect x="62.4" y="398.1" width="5.9" height="11.9" fill="none" stroke="#0c0c0c" stroke-width="1.21"/>
<rect x="145.3" y="398.1" width="5.5" height="11.9" fill="none" stroke="#0c0c0c" stroke-width="1.21"/>
<path d="M76.7 397.2 A7 7 0 0 0 76.7 411.2 Z" fill="none" stroke="#0c0c0c" stroke-width="1.26" stroke-linejoin="round" stroke-linecap="round"/>
<path d="M76.7 399 A5.2 5.2 0 0 0 76.7 409.4" fill="none" stroke="#0c0c0c" stroke-width="1.15" stroke-linejoin="round" stroke-linecap="round"/>
<path d="M137 397.2 A7 7 0 0 1 137 411.2 Z" fill="none" stroke="#0c0c0c" stroke-width="1.26" stroke-linejoin="round" stroke-linecap="round"/>
<path d="M137 399 A5.2 5.2 0 0 1 137 409.4" fill="none" stroke="#0c0c0c" stroke-width="1.15" stroke-linejoin="round" stroke-linecap="round"/>
<line x1="76.7" y1="390" x2="76.7" y2="399" stroke="#0c0c0c" stroke-width="2.3" />
<line x1="136.6" y1="390" x2="136.6" y2="399" stroke="#0c0c0c" stroke-width="2.3" />
<line x1="76.7" y1="404.2" x2="86.6" y2="404.2" stroke="#0c0c0c" stroke-width="1.21" />
<line x1="127.8" y1="404.2" x2="137" y2="404.2" stroke="#0c0c0c" stroke-width="1.21" />
<path d="M86.6 437 L86.6 389.2 L127.8 389.2 L127.8 437" fill="none" stroke="#0c0c0c" stroke-width="1.15" stroke-linejoin="round" stroke-linecap="round"/>
<path d="M86.6 420 Q86.4 432 84.6 437" fill="none" stroke="#0c0c0c" stroke-width="1.15" stroke-linejoin="round" stroke-linecap="round"/>
<path d="M127.8 420 Q128 432 129.8 437" fill="none" stroke="#0c0c0c" stroke-width="1.15" stroke-linejoin="round" stroke-linecap="round"/>
<rect x="89.3" y="417.4" width="2.6" height="4.4" fill="#222" stroke="#0c0c0c" stroke-width="1.03"/>
<rect x="93.89999999999999" y="417.4" width="2.6" height="4.4" fill="#222" stroke="#0c0c0c" stroke-width="1.03"/>
<rect x="98.5" y="417.4" width="2.6" height="4.4" fill="none" stroke="#0c0c0c" stroke-width="1.03"/>
<rect x="103.1" y="417.4" width="2.6" height="4.4" fill="none" stroke="#0c0c0c" stroke-width="1.03"/>
<rect x="107.69999999999999" y="417.4" width="2.6" height="4.4" fill="none" stroke="#0c0c0c" stroke-width="1.03"/>
<rect x="112.3" y="417.4" width="2.6" height="4.4" fill="none" stroke="#0c0c0c" stroke-width="1.03"/>
<rect x="116.89999999999999" y="417.4" width="2.6" height="4.4" fill="none" stroke="#0c0c0c" stroke-width="1.03"/>
<rect x="121.5" y="417.4" width="2.6" height="4.4" fill="#222" stroke="#0c0c0c" stroke-width="1.03"/>
<line x1="90.3" y1="414" x2="90.3" y2="438" stroke="#0c0c0c" stroke-width="1.15" stroke-dasharray="2 1.5"/>
<line x1="94.6" y1="416" x2="94.6" y2="438" stroke="#0c0c0c" stroke-width="0.8" stroke-dasharray="2 1.5"/>
<line x1="123.3" y1="413" x2="123.3" y2="438" stroke="#0c0c0c" stroke-width="1.15" stroke-dasharray="2.5 1.2"/>
<line x1="70.7" y1="437.3" x2="142.9" y2="437.3" stroke="#0c0c0c" stroke-width="1.21" />
<rect x="70" y="431.7" width="3.2" height="3.6" fill="none" stroke="#0c0c0c" stroke-width="0.8"/>
<rect x="140.4" y="431.7" width="3.2" height="3.6" fill="none" stroke="#0c0c0c" stroke-width="0.8"/>
<rect x="88.0" y="438.4" width="3.0" height="16.4" fill="#444" stroke="#0c0c0c" stroke-width="1.03"/>
<rect x="92.72" y="438.4" width="3.0" height="16.4" fill="#444" stroke="#0c0c0c" stroke-width="1.03"/>
<rect x="97.44" y="438.4" width="3.0" height="16.4" fill="#fff" stroke="#0c0c0c" stroke-width="1.03"/>
<line x1="98.94" y1="440" x2="98.94" y2="450" stroke="#999" stroke-width="0.69" />
<rect x="102.16" y="438.4" width="3.0" height="16.4" fill="#fff" stroke="#0c0c0c" stroke-width="1.03"/>
<line x1="103.66" y1="440" x2="103.66" y2="450" stroke="#999" stroke-width="0.69" />
<rect x="106.88" y="438.4" width="3.0" height="16.4" fill="#fff" stroke="#0c0c0c" stroke-width="1.03"/>
<line x1="108.38" y1="440" x2="108.38" y2="450" stroke="#999" stroke-width="0.69" />
<rect x="111.6" y="438.4" width="3.0" height="16.4" fill="#fff" stroke="#0c0c0c" stroke-width="1.03"/>
<line x1="113.1" y1="440" x2="113.1" y2="450" stroke="#999" stroke-width="0.69" />
<rect x="116.32" y="438.4" width="3.0" height="16.4" fill="#fff" stroke="#0c0c0c" stroke-width="1.03"/>
<line x1="117.82" y1="440" x2="117.82" y2="450" stroke="#999" stroke-width="0.69" />
<rect x="121.03999999999999" y="438.4" width="3.0" height="16.4" fill="#444" stroke="#0c0c0c" stroke-width="1.03"/>
<rect x="86" y="438" width="41.5" height="13.6" fill="none" stroke="#0c0c0c" stroke-width="0.8"/>
<path d="M72.2 451 L72.2 444.4 L74.6 444.4 L74.6 448 L77 448 L77 444.4 L79.6 444.4 L79.6 448 L82.2 448 L82.2 442.5 L84.6 442.5 L84.6 451" fill="none" stroke="#0c0c0c" stroke-width="1.15" stroke-linejoin="round" stroke-linecap="round"/>
<path d="M141.4 451 L141.4 444.4 L139 444.4 L139 448 L136.6 448 L136.6 444.4 L134 444.4 L134 448 L131.4 448 L131.4 442.5 L129 442.5 L129 451" fill="none" stroke="#0c0c0c" stroke-width="1.15" stroke-linejoin="round" stroke-linecap="round"/>
<line x1="106.8" y1="374.5" x2="106.8" y2="460" stroke="#444" stroke-width="0.8" stroke-dasharray="14 2 2 2"/>
<line x1="123.3" y1="413.3" x2="184.6" y2="365" stroke="#0c0c0c" stroke-width="1.21" />
<text x="161.4" y="380.9" transform="rotate(-38.2 161.4 380.9)" font-size="7.2" fill="#0c0c0c" stroke="#0c0c0c" stroke-width="0.3" textLength="27.5" lengthAdjust="spacingAndGlyphs">2−ø3.10</text>
<text x="43.8" y="422.4" font-size="7.8" font-weight="bold" font-style="italic" fill="#0c0c0c" text-anchor="start" transform="translate(43.8 419.59) skewX(-6) translate(-43.8 -419.59)" xml:space="preserve"  word-spacing="1.72" stroke="#0c0c0c" stroke-width="0.2">b</text>
<path d="M48.6 420.3 Q52 419.2 55 422.5 L83.2 449.4" fill="none" stroke="#0c0c0c" stroke-width="1.21" stroke-linejoin="round" stroke-linecap="round"/>
<text x="163.0" y="453.0" font-size="7.8" font-weight="bold" font-style="italic" fill="#0c0c0c" text-anchor="start" transform="translate(163.0 450.19) skewX(-6) translate(-163.0 -450.19)" xml:space="preserve"  word-spacing="1.72" stroke="#0c0c0c" stroke-width="0.2">c</text>
<path d="M112.3 426.3 L150 446 Q156 449.8 161.6 450.2" fill="none" stroke="#0c0c0c" stroke-width="1.21" stroke-linejoin="round" stroke-linecap="round"/>
<line x1="90.4" y1="455" x2="90.4" y2="480.5" stroke="#0c0c0c" stroke-width="1.15" />
<line x1="94.7" y1="455" x2="94.7" y2="480.5" stroke="#0c0c0c" stroke-width="1.15" />
<line x1="90.4" y1="451.8" x2="90.4" y2="455.4" stroke="#0c0c0c" stroke-width="1.84" />
<line x1="94.80000000000001" y1="451.8" x2="94.80000000000001" y2="455.4" stroke="#0c0c0c" stroke-width="1.84" />
<line x1="122.2" y1="455" x2="122.2" y2="480.5" stroke="#0c0c0c" stroke-width="1.15" />
<line x1="124.3" y1="455" x2="124.3" y2="480.5" stroke="#0c0c0c" stroke-width="1.15" />
<line x1="46" y1="478.5" x2="104.5" y2="478.5" stroke="#0c0c0c" stroke-width="1.15" />
<polygon points="90.4,478.5 86.4,477.5 86.4,479.5" fill="#0c0c0c"/>
<polygon points="94.7,478.5 98.7,477.5 98.7,479.5" fill="#0c0c0c"/>
<line x1="113.1" y1="478.5" x2="159.5" y2="478.5" stroke="#0c0c0c" stroke-width="1.15" />
<polygon points="122.2,478.5 118.2,477.5 118.2,479.5" fill="#0c0c0c"/>
<polygon points="124.3,478.5 128.3,477.5 128.3,479.5" fill="#0c0c0c"/>
<text x="46.9" y="477.66" font-size="8.0" font-weight="normal" font-style="normal" fill="#0c0c0c" text-anchor="start" textLength="33.0" lengthAdjust="spacingAndGlyphs" xml:space="preserve"  stroke="#0c0c0c" stroke-width="0.3">1.02. TYP</text>
<text x="135.1" y="477.66" font-size="8.0" font-weight="normal" font-style="normal" fill="#0c0c0c" text-anchor="start" textLength="23.6" lengthAdjust="spacingAndGlyphs" xml:space="preserve"  stroke="#0c0c0c" stroke-width="0.3">8−0.45</text>
<line x1="238" y1="233.7" x2="311.5" y2="233.7" stroke="#0c0c0c" stroke-width="1.15" />
<polygon points="238,233.7 242.5,232.6 242.5,234.79999999999998" fill="#0c0c0c"/>
<polygon points="311.5,233.7 307.0,232.6 307.0,234.79999999999998" fill="#0c0c0c"/>
<text x="265.9" y="233.26" font-size="8.0" font-weight="normal" font-style="normal" fill="#0c0c0c" text-anchor="start" textLength="18.6" lengthAdjust="spacingAndGlyphs" xml:space="preserve"  stroke="#0c0c0c" stroke-width="0.3">15.75</text>
<line x1="238" y1="231.5" x2="238" y2="245" stroke="#0c0c0c" stroke-width="1.15" />
<line x1="311.5" y1="231.5" x2="311.5" y2="245" stroke="#0c0c0c" stroke-width="1.15" />
<line x1="238" y1="245" x2="311.5" y2="245" stroke="#0c0c0c" stroke-width="3.22" />
<line x1="239" y1="245" x2="239" y2="306.7" stroke="#2a2a2a" stroke-width="2.53" />
<line x1="311.5" y1="245" x2="311.5" y2="303" stroke="#0c0c0c" stroke-width="1.21" />
<line x1="309.8" y1="247" x2="309.8" y2="303" stroke="#0c0c0c" stroke-width="1.15" />
<line x1="296.7" y1="246" x2="296.7" y2="294.5" stroke="#0c0c0c" stroke-width="1.72" />
<line x1="299.2" y1="246" x2="299.2" y2="294.5" stroke="#0c0c0c" stroke-width="1.72" />
<rect x="303.6" y="270.2" width="5.1" height="13.8" fill="none" stroke="#0c0c0c" stroke-width="1.72"/>
<path d="M295.5 302.8 L295.5 294 L310.2 294 L310.2 303 L300.5 303" fill="none" stroke="#0c0c0c" stroke-width="1.21" stroke-linejoin="round" stroke-linecap="round"/>
<path d="M238 306.7 L281.3 306.7 L282.4 304.2 L290.8 304.2 L290.8 302.4 L295.5 302.4" fill="none" stroke="#0c0c0c" stroke-width="1.15" stroke-linejoin="round" stroke-linecap="round"/>
<path d="M238.5 305.4 L247 305.6 L248.5 306.7" fill="none" stroke="#0c0c0c" stroke-width="1.15" stroke-linejoin="round" stroke-linecap="round"/>
<rect x="290.8" y="302.4" width="4.6" height="2.0" fill="none" stroke="#0c0c0c" stroke-width="0.8"/>
<rect x="256.6" y="306.7" width="14.1" height="6.3" fill="none" stroke="#0c0c0c" stroke-width="1.15"/>
<line x1="257.5" y1="311.6" x2="270" y2="311.6" stroke="#666" stroke-width="0.8" />
<line x1="263.4" y1="299.5" x2="263.4" y2="318" stroke="#0c0c0c" stroke-width="1.15" />
<path d="M300.3 303 L304.5 307.3 L315.1 307.3 L315.1 305.6 L305.6 305.6 L302.8 303" fill="none" stroke="#0c0c0c" stroke-width="1.21" stroke-linejoin="round" stroke-linecap="round"/>
<line x1="315.1" y1="307.5" x2="326.7" y2="307.5" stroke="#0c0c0c" stroke-width="1.15" />
<line x1="220" y1="244.8" x2="238" y2="244.8" stroke="#0c0c0c" stroke-width="1.15" />
<line x1="220" y1="307.5" x2="238" y2="307.5" stroke="#0c0c0c" stroke-width="1.15" />
<line x1="222.2" y1="244.8" x2="222.2" y2="307.5" stroke="#0c0c0c" stroke-width="1.15" />
<polygon points="222.2,244.8 221.1,249.3 223.29999999999998,249.3" fill="#0c0c0c"/>
<polygon points="222.2,307.5 221.1,303.0 223.29999999999998,303.0" fill="#0c0c0c"/>
<text x="221.46" y="284.3" transform="rotate(-90 221.46 284.3)" font-size="8.0" fill="#0c0c0c" stroke="#0c0c0c" stroke-width="0.3" textLength="17.3" lengthAdjust="spacingAndGlyphs">13.50</text>
<line x1="220" y1="313.4" x2="256.6" y2="313.4" stroke="#0c0c0c" stroke-width="1.15" />
<line x1="222.2" y1="307.5" x2="222.2" y2="339.3" stroke="#0c0c0c" stroke-width="1.15" />
<polygon points="222.2,307.5 221.2,303.5 223.2,303.5" fill="#0c0c0c"/>
<polygon points="222.2,313.4 221.2,317.4 223.2,317.4" fill="#0c0c0c"/>
<line x1="222.2" y1="296" x2="222.2" y2="307" stroke="#0c0c0c" stroke-width="1.15" />
<text x="221.46" y="339.1" transform="rotate(-90 221.46 339.1)" font-size="8.0" fill="#0c0c0c" stroke="#0c0c0c" stroke-width="0.3" textLength="13.7" lengthAdjust="spacingAndGlyphs">1.30</text>
<line x1="238" y1="329.6" x2="263.4" y2="329.6" stroke="#0c0c0c" stroke-width="1.15" />
<polygon points="238,329.6 242.5,328.5 242.5,330.70000000000005" fill="#0c0c0c"/>
<polygon points="263.4,329.6 258.9,328.5 258.9,330.70000000000005" fill="#0c0c0c"/>
<text x="243.7" y="328.36" font-size="8.0" font-weight="normal" font-style="normal" fill="#0c0c0c" text-anchor="start" textLength="14.3" lengthAdjust="spacingAndGlyphs" xml:space="preserve"  stroke="#0c0c0c" stroke-width="0.3">5.40</text>
<line x1="263.4" y1="329.6" x2="314.7" y2="329.6" stroke="#0c0c0c" stroke-width="1.15" />
<polygon points="263.4,329.6 267.9,328.5 267.9,330.70000000000005" fill="#0c0c0c"/>
<polygon points="314.7,329.6 310.2,328.5 310.2,330.70000000000005" fill="#0c0c0c"/>
<text x="272.9" y="328.36" font-size="8.0" font-weight="normal" font-style="normal" fill="#0c0c0c" text-anchor="start" textLength="32.1" lengthAdjust="spacingAndGlyphs" xml:space="preserve"  stroke="#0c0c0c" stroke-width="0.3">10.95±0.3</text>
<line x1="238" y1="307" x2="238" y2="331.5" stroke="#0c0c0c" stroke-width="1.15" />
<line x1="263.4" y1="313" x2="263.4" y2="331.5" stroke="#0c0c0c" stroke-width="1.15" />
<line x1="314.7" y1="308" x2="314.7" y2="331.5" stroke="#0c0c0c" stroke-width="1.15" />
<rect x="326.7" y="297" width="30.0" height="10.2" fill="none" stroke="#0c0c0c" stroke-width="1.21"/>
<line x1="341" y1="297" x2="341" y2="307.2" stroke="#0c0c0c" stroke-width="1.21" />
<path d="M329.6 304.6 A4.3 4.3 0 0 1 338.2 304.6 Z" fill="none" stroke="#0c0c0c" stroke-width="1.21" stroke-linejoin="round" stroke-linecap="round"/>
<text x="343.2" y="304.78" font-size="7.2" font-weight="normal" font-style="normal" fill="#0c0c0c" text-anchor="start" textLength="12.0" lengthAdjust="spacingAndGlyphs" xml:space="preserve"  stroke="#0c0c0c" stroke-width="0.3">0.10</text>
<line x1="283.4" y1="261.1" x2="328.8" y2="236.4" stroke="#0c0c0c" stroke-width="1.21" />
<text x="330.2" y="238.8" font-size="7.8" font-weight="bold" font-style="italic" fill="#0c0c0c" text-anchor="start" transform="translate(330.2 235.99) skewX(-6) translate(-330.2 -235.99)" xml:space="preserve"  word-spacing="1.72" stroke="#0c0c0c" stroke-width="0.2">d</text>
<defs><pattern id="hp" width="1.6" height="1.6" patternUnits="userSpaceOnUse" patternTransform="rotate(45)"><rect width="1.6" height="1.6" fill="#2e2e2e"/><line x1="0" y1="0" x2="0" y2="1.6" stroke="#8a8a8a" stroke-width="0.45"/></pattern></defs>
<line x1="399.7" y1="56.3" x2="433.5" y2="56.3" stroke="#0c0c0c" stroke-width="1.15" />
<polygon points="399.7,56.3 404.2,55.199999999999996 404.2,57.4" fill="#0c0c0c"/>
<polygon points="433.5,56.3 429.0,55.199999999999996 429.0,57.4" fill="#0c0c0c"/>
<text x="410.4" y="55.56" font-size="8.0" font-weight="normal" font-style="normal" fill="#0c0c0c" text-anchor="start" textLength="13.6" lengthAdjust="spacingAndGlyphs" xml:space="preserve"  stroke="#0c0c0c" stroke-width="0.3">7.14</text>
<line x1="399.7" y1="54" x2="399.7" y2="81" stroke="#0c0c0c" stroke-width="1.15" />
<line x1="433.5" y1="54" x2="433.5" y2="81" stroke="#0c0c0c" stroke-width="1.15" />
<line x1="373.2" y1="66.2" x2="410.4" y2="66.2" stroke="#0c0c0c" stroke-width="1.15" />
<polygon points="399.7,66.2 395.7,65.2 395.7,67.2" fill="#0c0c0c"/>
<polygon points="402.8,66.2 406.8,65.2 406.8,67.2" fill="#0c0c0c"/>
<line x1="402.8" y1="64" x2="402.8" y2="81" stroke="#0c0c0c" stroke-width="1.15" />
<text x="373.8" y="65.36" font-size="8.0" font-weight="normal" font-style="normal" fill="#0c0c0c" text-anchor="start" textLength="14.7" lengthAdjust="spacingAndGlyphs" xml:space="preserve"  stroke="#0c0c0c" stroke-width="0.3">0.65</text>
<line x1="419.4" y1="66.2" x2="460.3" y2="66.2" stroke="#0c0c0c" stroke-width="1.15" />
<polygon points="429.6,66.2 425.6,65.2 425.6,67.2" fill="#0c0c0c"/>
<polygon points="433.5,66.2 437.5,65.2 437.5,67.2" fill="#0c0c0c"/>
<line x1="429.6" y1="64" x2="429.6" y2="81" stroke="#0c0c0c" stroke-width="1.15" />
<text x="445.6" y="65.36" font-size="8.0" font-weight="normal" font-style="normal" fill="#0c0c0c" text-anchor="start" textLength="14.1" lengthAdjust="spacingAndGlyphs" xml:space="preserve"  stroke="#0c0c0c" stroke-width="0.3">1.02</text>
<rect x="398.2" y="80.8" width="3.7" height="16.8" fill="url(#hp)" stroke="#111" stroke-width="0.57"/>
<line x1="400.05" y1="79.6" x2="400.05" y2="98.4" stroke="#333" stroke-width="0.69" />
<rect x="403.02" y="80.8" width="3.7" height="16.8" fill="url(#hp)" stroke="#111" stroke-width="0.57"/>
<line x1="404.87" y1="79.6" x2="404.87" y2="98.4" stroke="#333" stroke-width="0.69" />
<rect x="407.84" y="80.8" width="3.7" height="16.8" fill="url(#hp)" stroke="#111" stroke-width="0.57"/>
<line x1="409.69" y1="79.6" x2="409.69" y2="98.4" stroke="#333" stroke-width="0.69" />
<rect x="412.65999999999997" y="80.8" width="3.7" height="16.8" fill="url(#hp)" stroke="#111" stroke-width="0.57"/>
<line x1="414.51" y1="79.6" x2="414.51" y2="98.4" stroke="#333" stroke-width="0.69" />
<rect x="417.48" y="80.8" width="3.7" height="16.8" fill="url(#hp)" stroke="#111" stroke-width="0.57"/>
<line x1="419.33000000000004" y1="79.6" x2="419.33000000000004" y2="98.4" stroke="#333" stroke-width="0.69" />
<rect x="422.3" y="80.8" width="3.7" height="16.8" fill="url(#hp)" stroke="#111" stroke-width="0.57"/>
<line x1="424.15000000000003" y1="79.6" x2="424.15000000000003" y2="98.4" stroke="#333" stroke-width="0.69" />
<rect x="427.12" y="80.8" width="3.7" height="16.8" fill="url(#hp)" stroke="#111" stroke-width="0.57"/>
<line x1="428.97" y1="79.6" x2="428.97" y2="98.4" stroke="#333" stroke-width="0.69" />
<rect x="431.94" y="80.8" width="3.7" height="16.8" fill="url(#hp)" stroke="#111" stroke-width="0.57"/>
<line x1="433.79" y1="79.6" x2="433.79" y2="98.4" stroke="#333" stroke-width="0.69" />
<text x="393.6" y="84.8" font-size="7" font-weight="normal" font-style="italic" fill="#0c0c0c" text-anchor="start" transform="translate(393.6 82.28) skewX(-6) translate(-393.6 -82.28)" xml:space="preserve"  word-spacing="1.54" stroke="#0c0c0c" stroke-width="0.3">8</text>
<text x="435.8" y="84.4" font-size="7" font-weight="normal" font-style="italic" fill="#0c0c0c" text-anchor="start" transform="translate(435.8 81.88) skewX(-6) translate(-435.8 -81.88)" xml:space="preserve"  word-spacing="1.54" stroke="#0c0c0c" stroke-width="0.3">1</text>
<line x1="416.9" y1="75.2" x2="416.9" y2="164" stroke="#0c0c0c" stroke-width="1.15" stroke-dasharray="10 2 2 2"/>
<line x1="436" y1="82.3" x2="456.5" y2="82.3" stroke="#0c0c0c" stroke-width="1.15" />
<line x1="436" y1="96.3" x2="456.5" y2="96.3" stroke="#0c0c0c" stroke-width="1.15" />
<line x1="454.6" y1="82.3" x2="454.6" y2="116.5" stroke="#0c0c0c" stroke-width="1.15" />
<polygon points="454.6,82.3 453.6,86.3 455.6,86.3" fill="#0c0c0c"/>
<polygon points="454.6,96.3 453.6,92.3 455.6,92.3" fill="#0c0c0c"/>
<text x="454.16" y="116" transform="rotate(-90 454.16 116)" font-size="8.0" fill="#0c0c0c" stroke="#0c0c0c" stroke-width="0.3" textLength="13.5" lengthAdjust="spacingAndGlyphs">3.05</text>
<line x1="352" y1="90.1" x2="398.7" y2="90.1" stroke="#0c0c0c" stroke-width="1.15" />
<line x1="352" y1="135.8" x2="369.6" y2="135.8" stroke="#0c0c0c" stroke-width="1.15" />
<line x1="354.1" y1="90.1" x2="354.1" y2="135.8" stroke="#0c0c0c" stroke-width="1.15" />
<polygon points="354.1,90.1 353.0,94.6 355.20000000000005,94.6" fill="#0c0c0c"/>
<polygon points="354.1,135.8 353.0,131.3 355.20000000000005,131.3" fill="#0c0c0c"/>
<text x="353.26" y="119.4" transform="rotate(-90 353.26 119.4)" font-size="8.0" fill="#0c0c0c" stroke="#0c0c0c" stroke-width="0.3" textLength="14.0" lengthAdjust="spacingAndGlyphs">9.98</text>
<line x1="360.3" y1="115.2" x2="416.9" y2="115.2" stroke="#0c0c0c" stroke-width="1.15" />
<polygon points="369.6,115.2 365.6,114.2 365.6,116.2" fill="#0c0c0c"/>
<polygon points="381.2,115.2 385.2,114.2 385.2,116.2" fill="#0c0c0c"/>
<line x1="369.6" y1="113" x2="369.6" y2="127" stroke="#0c0c0c" stroke-width="1.15" />
<line x1="381.2" y1="113" x2="381.2" y2="127" stroke="#0c0c0c" stroke-width="1.15" />
<text x="394.1" y="114.66" font-size="8.0" font-weight="normal" font-style="normal" fill="#0c0c0c" text-anchor="start" textLength="22.8" lengthAdjust="spacingAndGlyphs" xml:space="preserve"  stroke="#0c0c0c" stroke-width="0.3">2−2.50</text>
<rect x="369.6" y="126.8" width="11.8" height="18.0" fill="url(#hp)" stroke="#111" stroke-width="0.69"/>
<rect x="452.2" y="126.8" width="12.8" height="18.0" fill="url(#hp)" stroke="#111" stroke-width="0.69"/>
<circle cx="387.3" cy="135.7" r="7.7" fill="#fff" stroke="#0c0c0c" stroke-width="1.1"/>
<circle cx="446.5" cy="135.7" r="7.7" fill="#fff" stroke="#0c0c0c" stroke-width="1.1"/>
<line x1="366.5" y1="135.8" x2="396.5" y2="135.8" stroke="#0c0c0c" stroke-width="1.15" stroke-dasharray="8 2 2 2"/>
<line x1="437" y1="135.8" x2="467" y2="135.8" stroke="#0c0c0c" stroke-width="1.15" stroke-dasharray="8 2 2 2"/>
<line x1="387.3" y1="121.7" x2="387.3" y2="179" stroke="#0c0c0c" stroke-width="1.15" stroke-dasharray="9 2 2 2 30 0"/>
<line x1="446.5" y1="121.7" x2="446.5" y2="179" stroke="#0c0c0c" stroke-width="1.15" stroke-dasharray="9 2 2 2 30 0"/>
<line x1="376" y1="121.7" x2="376" y2="164" stroke="#0c0c0c" stroke-width="1.15" />
<line x1="465" y1="126.8" x2="478" y2="126.8" stroke="#0c0c0c" stroke-width="1.15" />
<line x1="465" y1="144.8" x2="478" y2="144.8" stroke="#0c0c0c" stroke-width="1.15" />
<line x1="476" y1="105" x2="476" y2="144.8" stroke="#0c0c0c" stroke-width="1.15" />
<polygon points="476,126.8 475,130.8 477,130.8" fill="#0c0c0c"/>
<polygon points="476,144.8 475,140.8 477,140.8" fill="#0c0c0c"/>
<text x="475.26" y="120.3" transform="rotate(-90 475.26 120.3)" font-size="8.0" fill="#0c0c0c" stroke="#0c0c0c" stroke-width="0.3" textLength="14.9" lengthAdjust="spacingAndGlyphs">3.89</text>
<line x1="351.8" y1="162" x2="416.9" y2="162" stroke="#0c0c0c" stroke-width="1.15" />
<polygon points="376,162 372,161 372,163" fill="#0c0c0c"/>
<polygon points="387.3,162 391.3,161 391.3,163" fill="#0c0c0c"/>
<polygon points="416.9,162 412.9,161 412.9,163" fill="#0c0c0c"/>
<polygon points="387.3,162 387.3,162 387.3,162" fill="#0c0c0c"/>
<text x="352.7" y="161.16" font-size="8.0" font-weight="normal" font-style="normal" fill="#0c0c0c" text-anchor="start" textLength="13.2" lengthAdjust="spacingAndGlyphs" xml:space="preserve"  stroke="#0c0c0c" stroke-width="0.3">2.31</text>
<text x="394.1" y="161.16" font-size="8.0" font-weight="normal" font-style="normal" fill="#0c0c0c" text-anchor="start" textLength="14.9" lengthAdjust="spacingAndGlyphs" xml:space="preserve"  stroke="#0c0c0c" stroke-width="0.3">6.35</text>
<line x1="387.3" y1="177.2" x2="446.5" y2="177.2" stroke="#0c0c0c" stroke-width="1.15" />
<polygon points="387.3,177.2 391.8,176.1 391.8,178.29999999999998" fill="#0c0c0c"/>
<polygon points="446.5,177.2 442.0,176.1 442.0,178.29999999999998" fill="#0c0c0c"/>
<text x="407.6" y="176.06" font-size="8.0" font-weight="normal" font-style="normal" fill="#0c0c0c" text-anchor="start" textLength="18.4" lengthAdjust="spacingAndGlyphs" xml:space="preserve"  stroke="#0c0c0c" stroke-width="0.3">12.70</text>
<line x1="440.6" y1="120.3" x2="464" y2="182.3" stroke="#0c0c0c" stroke-width="1.21" />
<polygon points="444.3,130 441.6,126.6 443.7,125.8" fill="#1a1a1a"/>
<text x="457.6" y="162.4" transform="rotate(69.3 457.6 162.4)" font-size="8.0" fill="#0c0c0c" stroke="#0c0c0c" stroke-width="0.3" textLength="20" lengthAdjust="spacingAndGlyphs">ø3.25</text>
<text x="369.5" y="347.15" font-size="11.04" font-weight="normal" font-style="italic" fill="#0c0c0c" text-anchor="start" textLength="95.5" lengthAdjust="spacingAndGlyphs" transform="translate(369.5 343.18) skewX(-6) translate(-369.5 -343.18)" xml:space="preserve"  word-spacing="2.43" stroke="#0c0c0c" stroke-width="0.28">MJ5688−BX11−HR1−X</text>
<line x1="416.3" y1="348.6" x2="416.3" y2="384" stroke="#0c0c0c" stroke-width="1.03" />
<line x1="413.3" y1="348.6" x2="419.3" y2="348.6" stroke="#0c0c0c" stroke-width="1.15" />
<path d="M461.9 348.6 L461.9 393 L475.4 393" fill="none" stroke="#0c0c0c" stroke-width="1.03" stroke-linejoin="round" stroke-linecap="round"/>
<line x1="458.9" y1="348.6" x2="464.9" y2="348.6" stroke="#0c0c0c" stroke-width="1.15" />
<text x="335.4" y="377.11" font-size="10.35" font-weight="normal" font-style="italic" fill="#0c0c0c" text-anchor="start" textLength="74.0" lengthAdjust="spacingAndGlyphs" transform="translate(335.4 373.38) skewX(-6) translate(-335.4 -373.38)" xml:space="preserve"  word-spacing="2.28" stroke="#0c0c0c" stroke-width="0.28">Material &amp; Plating</text>
<rect x="326.9" y="383.8" width="100.5" height="104.2" fill="none" stroke="#0c0c0c" stroke-width="1.26"/>
<line x1="342.5" y1="383.8" x2="342.5" y2="488" stroke="#0c0c0c" stroke-width="1.15" />
<line x1="326.9" y1="398.7" x2="427.4" y2="398.7" stroke="#0c0c0c" stroke-width="1.15" />
<line x1="326.9" y1="413.6" x2="427.4" y2="413.6" stroke="#0c0c0c" stroke-width="1.15" />
<line x1="326.9" y1="428.4" x2="427.4" y2="428.4" stroke="#0c0c0c" stroke-width="1.15" />
<line x1="326.9" y1="443.3" x2="427.4" y2="443.3" stroke="#0c0c0c" stroke-width="1.15" />
<line x1="326.9" y1="458.2" x2="427.4" y2="458.2" stroke="#0c0c0c" stroke-width="1.15" />
<line x1="326.9" y1="473.1" x2="427.4" y2="473.1" stroke="#0c0c0c" stroke-width="1.15" />
<line x1="326.9" y1="458.2" x2="427.4" y2="458.2" stroke="#0c0c0c" stroke-width="1.84" />
<text x="331.5" y="395.21" font-size="12.19" font-weight="normal" font-style="italic" fill="#222" text-anchor="start" textLength="6.8" lengthAdjust="spacingAndGlyphs" transform="translate(331.5 390.82) skewX(-6) translate(-331.5 -390.82)" xml:space="preserve"  word-spacing="2.68" stroke="#222" stroke-width="0.28">X</text>
<text x="347" y="395.21" font-size="12.19" font-weight="normal" font-style="italic" fill="#222" text-anchor="start" textLength="73.5" lengthAdjust="spacingAndGlyphs" transform="translate(347 390.82) skewX(-6) translate(-347 -390.82)" xml:space="preserve"  word-spacing="2.68" stroke="#222" stroke-width="0.28">Terminal Plating</text>
<text x="331.5" y="410.01" font-size="12.19" font-weight="normal" font-style="italic" fill="#222" text-anchor="start" textLength="6.8" lengthAdjust="spacingAndGlyphs" transform="translate(331.5 405.62) skewX(-6) translate(-331.5 -405.62)" xml:space="preserve"  word-spacing="2.68" stroke="#222" stroke-width="0.28">0</text>
<text x="347" y="410.01" font-size="12.19" font-weight="normal" font-style="italic" fill="#222" text-anchor="start" textLength="67.5" lengthAdjust="spacingAndGlyphs" transform="translate(347 405.62) skewX(-6) translate(-347 -405.62)" xml:space="preserve"  word-spacing="2.68" stroke="#222" stroke-width="0.28">Au 1u&quot; Plating</text>
<text x="332.6" y="424.86" font-size="12.19" font-weight="normal" font-style="italic" fill="#222" text-anchor="start" textLength="5.0" lengthAdjust="spacingAndGlyphs" transform="translate(332.6 420.47) skewX(-6) translate(-332.6 -420.47)" xml:space="preserve"  word-spacing="2.68" stroke="#222" stroke-width="0.28">1</text>
<text x="347" y="424.86" font-size="12.19" font-weight="normal" font-style="italic" fill="#222" text-anchor="start" textLength="67.5" lengthAdjust="spacingAndGlyphs" transform="translate(347 420.47) skewX(-6) translate(-347 -420.47)" xml:space="preserve"  word-spacing="2.68" stroke="#222" stroke-width="0.28">Au 3u&quot; Plating</text>
<text x="331.5" y="439.71" font-size="12.19" font-weight="normal" font-style="italic" fill="#222" text-anchor="start" textLength="6.8" lengthAdjust="spacingAndGlyphs" transform="translate(331.5 435.32) skewX(-6) translate(-331.5 -435.32)" xml:space="preserve"  word-spacing="2.68" stroke="#222" stroke-width="0.28">2</text>
<text x="347" y="439.71" font-size="12.19" font-weight="normal" font-style="italic" fill="#222" text-anchor="start" textLength="67.5" lengthAdjust="spacingAndGlyphs" transform="translate(347 435.32) skewX(-6) translate(-347 -435.32)" xml:space="preserve"  word-spacing="2.68" stroke="#222" stroke-width="0.28">Au 6u&quot; Plating</text>
<text x="331.5" y="454.61" font-size="12.19" font-weight="normal" font-style="italic" fill="#222" text-anchor="start" textLength="6.8" lengthAdjust="spacingAndGlyphs" transform="translate(331.5 450.22) skewX(-6) translate(-331.5 -450.22)" xml:space="preserve"  word-spacing="2.68" stroke="#222" stroke-width="0.28">3</text>
<text x="347" y="454.61" font-size="12.19" font-weight="normal" font-style="italic" fill="#222" text-anchor="start" textLength="72.9" lengthAdjust="spacingAndGlyphs" transform="translate(347 450.22) skewX(-6) translate(-347 -450.22)" xml:space="preserve"  word-spacing="2.68" stroke="#222" stroke-width="0.28">Au 15u&quot; Plating</text>
<text x="331.5" y="469.51" font-size="12.19" font-weight="normal" font-style="italic" fill="#222" text-anchor="start" textLength="6.8" lengthAdjust="spacingAndGlyphs" transform="translate(331.5 465.12) skewX(-6) translate(-331.5 -465.12)" xml:space="preserve"  word-spacing="2.68" stroke="#222" stroke-width="0.28">4</text>
<text x="347" y="469.51" font-size="12.19" font-weight="normal" font-style="italic" fill="#222" text-anchor="start" textLength="72.9" lengthAdjust="spacingAndGlyphs" transform="translate(347 465.12) skewX(-6) translate(-347 -465.12)" xml:space="preserve"  word-spacing="2.68" stroke="#222" stroke-width="0.28">Au 30u&quot; Plating</text>
<text x="331.5" y="484.41" font-size="12.19" font-weight="normal" font-style="italic" fill="#222" text-anchor="start" textLength="6.8" lengthAdjust="spacingAndGlyphs" transform="translate(331.5 480.02) skewX(-6) translate(-331.5 -480.02)" xml:space="preserve"  word-spacing="2.68" stroke="#222" stroke-width="0.28">5</text>
<text x="347" y="484.41" font-size="12.19" font-weight="normal" font-style="italic" fill="#222" text-anchor="start" textLength="72.9" lengthAdjust="spacingAndGlyphs" transform="translate(347 480.02) skewX(-6) translate(-347 -480.02)" xml:space="preserve"  word-spacing="2.68" stroke="#222" stroke-width="0.28">Au 50u&quot; Plating</text>
<path d="M312 466.4 L318.0 458 L324 466.4 Z" fill="none" stroke="#0c0c0c" stroke-width="0.92" stroke-linejoin="round"/>
<path d="M314.6 465.4 L318.0 461.2 L321.4 465.4 Z" fill="#444" stroke="#0c0c0c" stroke-width="0.69" stroke-linejoin="round"/>
<line x1="315.4" y1="464.2" x2="320.6" y2="464.2" stroke="#ddd" stroke-width="0.57" />
<path d="M497 425.3 L503.4 417 L509.8 425.3 Z" fill="none" stroke="#0c0c0c" stroke-width="0.92" stroke-linejoin="round"/>
<path d="M499.6 424.3 L503.4 420.2 L507.2 424.3 Z" fill="#444" stroke="#0c0c0c" stroke-width="0.69" stroke-linejoin="round"/>
<line x1="500.4" y1="423.1" x2="506.40000000000003" y2="423.1" stroke="#ddd" stroke-width="0.57" />
<rect x="475.4" y="385.5" width="55.4" height="28.5" fill="none" stroke="#222" stroke-width="1.26"/>
<line x1="487.3" y1="385.5" x2="487.3" y2="414" stroke="#222" stroke-width="1.03" />
<line x1="475.4" y1="395" x2="530.8" y2="395" stroke="#222" stroke-width="1.15" />
<line x1="475.4" y1="404.4" x2="530.8" y2="404.4" stroke="#222" stroke-width="1.15" />
<text x="478.6" y="392.7" style="font-family:'Liberation Serif',serif" font-size="7" font-weight="normal" font-style="italic" fill="#666" text-anchor="start" xml:space="preserve" >X</text>
<text transform="translate(490.0 392.8) skewX(-12)" x="0 6.1 12.2 18.3" y="0" font-size="6.6" fill="#6e6e6e" stroke="#6e6e6e" stroke-width="0.2" style="font-family:'Liberation Serif','Noto Serif CJK SC',serif">包装方式</text>
<text x="478.6" y="402.2" style="font-family:'Liberation Serif',serif" font-size="7" font-weight="normal" font-style="italic" fill="#666" text-anchor="start" xml:space="preserve" >C</text>
<text transform="translate(490.0 402.3) skewX(-12)" x="0 6.1 12.2 18.3" y="0" font-size="6.6" fill="#6e6e6e" stroke="#6e6e6e" stroke-width="0.2" style="font-family:'Liberation Serif','Noto Serif CJK SC',serif">卷带包装</text>
<text x="478.6" y="411.59999999999997" style="font-family:'Liberation Serif',serif" font-size="7" font-weight="normal" font-style="italic" fill="#666" text-anchor="start" xml:space="preserve" >P</text>
<text transform="translate(490.0 411.7) skewX(-12)" x="0 6.1 12.2 18.3 24.4" y="0" font-size="6.6" fill="#6e6e6e" stroke="#6e6e6e" stroke-width="0.2" style="font-family:'Liberation Serif','Noto Serif CJK SC',serif">吸塑盒包装</text>
<line x1="12.5" y1="501" x2="456.4" y2="501" stroke="#0c0c0c" stroke-width="1.15" />
<line x1="456.4" y1="501" x2="456.4" y2="561.5" stroke="#0c0c0c" stroke-width="1.15" />
<line x1="12.5" y1="513" x2="456.4" y2="513" stroke="#0c0c0c" stroke-width="1.15" />
<line x1="12.5" y1="524.5" x2="456.4" y2="524.5" stroke="#0c0c0c" stroke-width="1.15" />
<line x1="12.5" y1="536" x2="456.4" y2="536" stroke="#0c0c0c" stroke-width="1.15" />
<line x1="12.5" y1="548.3" x2="456.4" y2="548.3" stroke="#0c0c0c" stroke-width="1.15" />
<line x1="35.4" y1="501" x2="35.4" y2="561.5" stroke="#0c0c0c" stroke-width="1.15" />
<line x1="121.4" y1="501" x2="121.4" y2="561.5" stroke="#0c0c0c" stroke-width="1.15" />
<line x1="140" y1="501" x2="140" y2="561.5" stroke="#0c0c0c" stroke-width="1.15" />
<line x1="285.5" y1="501" x2="285.5" y2="561.5" stroke="#0c0c0c" stroke-width="1.15" />
<line x1="417.4" y1="501" x2="417.4" y2="561.5" stroke="#0c0c0c" stroke-width="1.15" />
<text x="22.2" y="509.1" font-size="7.359999999999999" font-weight="bold" font-style="italic" fill="#0c0c0c" text-anchor="middle" transform="translate(22.2 506.45) skewX(-6) translate(-22.2 -506.45)" xml:space="preserve"  word-spacing="1.62" stroke="#0c0c0c" stroke-width="0.3">d</text>
<text x="37.5" y="509.23" font-size="7.36" font-weight="bold" font-style="italic" fill="#0c0c0c" text-anchor="start" textLength="12.0" lengthAdjust="spacingAndGlyphs" transform="translate(37.5 506.58) skewX(-6) translate(-37.5 -506.58)" xml:space="preserve"  word-spacing="1.62" stroke="#0c0c0c" stroke-width="0.3">Shell</text>
<text x="128.4" y="509.1" font-size="7.359999999999999" font-weight="bold" font-style="italic" fill="#0c0c0c" text-anchor="middle" transform="translate(128.4 506.45) skewX(-6) translate(-128.4 -506.45)" xml:space="preserve"  word-spacing="1.62" stroke="#0c0c0c" stroke-width="0.3">1</text>
<text x="145.4" y="509.23" font-size="7.36" font-weight="bold" font-style="italic" fill="#0c0c0c" text-anchor="start" textLength="48.8" lengthAdjust="spacingAndGlyphs" transform="translate(145.4 506.58) skewX(-6) translate(-145.4 -506.58)" xml:space="preserve"  word-spacing="1.62" stroke="#0c0c0c" stroke-width="0.3">Brass T=0.25mm</text>
<text x="289" y="509.23" font-size="7.36" font-weight="bold" font-style="italic" fill="#0c0c0c" text-anchor="start" textLength="53.4" lengthAdjust="spacingAndGlyphs" transform="translate(289 506.58) skewX(-6) translate(-289 -506.58)" xml:space="preserve"  word-spacing="1.62" stroke="#0c0c0c" stroke-width="0.3">Plating Ni 30u&quot;Min</text>
<text x="22.2" y="521.4" font-size="7.359999999999999" font-weight="bold" font-style="italic" fill="#0c0c0c" text-anchor="middle" transform="translate(22.2 518.75) skewX(-6) translate(-22.2 -518.75)" xml:space="preserve"  word-spacing="1.62" stroke="#0c0c0c" stroke-width="0.3">c</text>
<text x="37.5" y="521.53" font-size="7.36" font-weight="bold" font-style="italic" fill="#0c0c0c" text-anchor="start" textLength="15.9" lengthAdjust="spacingAndGlyphs" transform="translate(37.5 518.88) skewX(-6) translate(-37.5 -518.88)" xml:space="preserve"  word-spacing="1.62" stroke="#0c0c0c" stroke-width="0.3">Cover</text>
<text x="128.4" y="521.4" font-size="7.359999999999999" font-weight="bold" font-style="italic" fill="#0c0c0c" text-anchor="middle" transform="translate(128.4 518.75) skewX(-6) translate(-128.4 -518.75)" xml:space="preserve"  word-spacing="1.62" stroke="#0c0c0c" stroke-width="0.3">1</text>
<text x="145.4" y="521.53" font-size="7.36" font-weight="bold" font-style="italic" fill="#0c0c0c" text-anchor="start" textLength="37.5" lengthAdjust="spacingAndGlyphs" transform="translate(145.4 518.88) skewX(-6) translate(-145.4 -518.88)" xml:space="preserve"  word-spacing="1.62" stroke="#0c0c0c" stroke-width="0.3">LCP UL94V−0</text>
<text x="289" y="521.53" font-size="7.36" font-weight="bold" font-style="italic" fill="#0c0c0c" text-anchor="start" textLength="16.8" lengthAdjust="spacingAndGlyphs" transform="translate(289 518.88) skewX(-6) translate(-289 -518.88)" xml:space="preserve"  word-spacing="1.62" stroke="#0c0c0c" stroke-width="0.3">BLACK</text>
<text x="22.2" y="532.8" font-size="7.359999999999999" font-weight="bold" font-style="italic" fill="#0c0c0c" text-anchor="middle" transform="translate(22.2 530.15) skewX(-6) translate(-22.2 -530.15)" xml:space="preserve"  word-spacing="1.62" stroke="#0c0c0c" stroke-width="0.3">b</text>
<text x="37.5" y="532.93" font-size="7.36" font-weight="bold" font-style="italic" fill="#0c0c0c" text-anchor="start" textLength="24.0" lengthAdjust="spacingAndGlyphs" transform="translate(37.5 530.28) skewX(-6) translate(-37.5 -530.28)" xml:space="preserve"  word-spacing="1.62" stroke="#0c0c0c" stroke-width="0.3">Terminal</text>
<text x="128.4" y="532.8" font-size="7.359999999999999" font-weight="bold" font-style="italic" fill="#0c0c0c" text-anchor="middle" transform="translate(128.4 530.15) skewX(-6) translate(-128.4 -530.15)" xml:space="preserve"  word-spacing="1.62" stroke="#0c0c0c" stroke-width="0.3">8</text>
<text x="145.4" y="532.93" font-size="7.36" font-weight="bold" font-style="italic" fill="#0c0c0c" text-anchor="start" textLength="79.4" lengthAdjust="spacingAndGlyphs" transform="translate(145.4 530.28) skewX(-6) translate(-145.4 -530.28)" xml:space="preserve"  word-spacing="1.62" stroke="#0c0c0c" stroke-width="0.3">Phophor Bronze T=0.35mm</text>
<text x="289" y="532.93" font-size="7.36" font-weight="bold" font-style="italic" fill="#0c0c0c" text-anchor="start" textLength="39.9" lengthAdjust="spacingAndGlyphs" transform="translate(289 530.28) skewX(-6) translate(-289 -530.28)" xml:space="preserve"  word-spacing="1.62" stroke="#0c0c0c" stroke-width="0.3">Au/Tin Plating</text>
<text x="22.2" y="544.7" font-size="7.359999999999999" font-weight="bold" font-style="italic" fill="#0c0c0c" text-anchor="middle" transform="translate(22.2 542.05) skewX(-6) translate(-22.2 -542.05)" xml:space="preserve"  word-spacing="1.62" stroke="#0c0c0c" stroke-width="0.3">a</text>
<text x="37.5" y="544.83" font-size="7.36" font-weight="bold" font-style="italic" fill="#0c0c0c" text-anchor="start" textLength="22.5" lengthAdjust="spacingAndGlyphs" transform="translate(37.5 542.18) skewX(-6) translate(-37.5 -542.18)" xml:space="preserve"  word-spacing="1.62" stroke="#0c0c0c" stroke-width="0.3">Housing</text>
<text x="128.4" y="544.7" font-size="7.359999999999999" font-weight="bold" font-style="italic" fill="#0c0c0c" text-anchor="middle" transform="translate(128.4 542.05) skewX(-6) translate(-128.4 -542.05)" xml:space="preserve"  word-spacing="1.62" stroke="#0c0c0c" stroke-width="0.3">1</text>
<text x="145.4" y="544.83" font-size="7.36" font-weight="bold" font-style="italic" fill="#0c0c0c" text-anchor="start" textLength="37.5" lengthAdjust="spacingAndGlyphs" transform="translate(145.4 542.18) skewX(-6) translate(-145.4 -542.18)" xml:space="preserve"  word-spacing="1.62" stroke="#0c0c0c" stroke-width="0.3">LCP UL94V−0</text>
<text x="289" y="544.83" font-size="7.36" font-weight="bold" font-style="italic" fill="#0c0c0c" text-anchor="start" textLength="16.8" lengthAdjust="spacingAndGlyphs" transform="translate(289 542.18) skewX(-6) translate(-289 -542.18)" xml:space="preserve"  word-spacing="1.62" stroke="#0c0c0c" stroke-width="0.3">BLACK</text>
<text x="18.9" y="557.63" font-size="7.36" font-weight="bold" font-style="italic" fill="#0c0c0c" text-anchor="start" textLength="8.7" lengthAdjust="spacingAndGlyphs" transform="translate(18.9 554.98) skewX(-6) translate(-18.9 -554.98)" xml:space="preserve"  word-spacing="1.62" stroke="#0c0c0c" stroke-width="0.3">NO.</text>
<text x="60" y="557.63" font-size="7.36" font-weight="bold" font-style="italic" fill="#0c0c0c" text-anchor="start" textLength="30" lengthAdjust="spacingAndGlyphs" transform="translate(60 554.98) skewX(-6) translate(-60 -554.98)" xml:space="preserve"  word-spacing="1.62" stroke="#0c0c0c" stroke-width="0.3">PART NAME</text>
<text x="122.9" y="557.63" font-size="7.36" font-weight="bold" font-style="italic" fill="#0c0c0c" text-anchor="start" textLength="12.6" lengthAdjust="spacingAndGlyphs" transform="translate(122.9 554.98) skewX(-6) translate(-122.9 -554.98)" xml:space="preserve"  word-spacing="1.62" stroke="#0c0c0c" stroke-width="0.3">Q&#x27;TY</text>
<text x="179.9" y="557.63" font-size="7.36" font-weight="bold" font-style="italic" fill="#0c0c0c" text-anchor="start" textLength="25.4" lengthAdjust="spacingAndGlyphs" transform="translate(179.9 554.98) skewX(-6) translate(-179.9 -554.98)" xml:space="preserve"  word-spacing="1.62" stroke="#0c0c0c" stroke-width="0.3">MATERIAL</text>
<text x="289" y="557.63" font-size="7.36" font-weight="bold" font-style="italic" fill="#0c0c0c" text-anchor="start" textLength="51" lengthAdjust="spacingAndGlyphs" transform="translate(289 554.98) skewX(-6) translate(-289 -554.98)" xml:space="preserve"  word-spacing="1.62" stroke="#0c0c0c" stroke-width="0.3">PLATING &amp; COLOR</text>
<text x="423.3" y="557.63" font-size="7.36" font-weight="bold" font-style="italic" fill="#0c0c0c" text-anchor="start" textLength="21.0" lengthAdjust="spacingAndGlyphs" transform="translate(423.3 554.98) skewX(-6) translate(-423.3 -554.98)" xml:space="preserve"  word-spacing="1.62" stroke="#0c0c0c" stroke-width="0.3">Remark</text>
<text x="121.4" y="568" font-size="5" font-weight="normal" font-style="normal" fill="#999" text-anchor="middle" xml:space="preserve" >4</text>
<line x1="483.3" y1="489.2" x2="579.6" y2="489.2" stroke="#0c0c0c" stroke-width="1.26" />
<line x1="483.3" y1="489.2" x2="483.3" y2="561.5" stroke="#0c0c0c" stroke-width="1.15" />
<line x1="483.3" y1="517" x2="579.6" y2="517" stroke="#0c0c0c" stroke-width="1.15" />
<text x="490.8" y="503.29" font-size="9.2" font-weight="normal" font-style="italic" fill="#0c0c0c" text-anchor="start" textLength="68.7" lengthAdjust="spacingAndGlyphs" transform="translate(490.8 499.98) skewX(-6) translate(-490.8 -499.98)" xml:space="preserve"  word-spacing="2.02" stroke="#0c0c0c" stroke-width="0.28">UNLESS OTHERWISE</text>
<text x="490.8" y="512.29" font-size="9.2" font-weight="normal" font-style="italic" fill="#0c0c0c" text-anchor="start" textLength="80.1" lengthAdjust="spacingAndGlyphs" transform="translate(490.8 508.98) skewX(-6) translate(-490.8 -508.98)" xml:space="preserve"  word-spacing="2.02" stroke="#0c0c0c" stroke-width="0.28">SPECIFED TOLERANCES</text>
<text x="490.8" y="526.28" font-size="8.05" font-weight="bold" font-style="italic" fill="#0c0c0c" text-anchor="start" textLength="30.6" lengthAdjust="spacingAndGlyphs" transform="translate(490.8 523.38) skewX(-6) translate(-490.8 -523.38)" xml:space="preserve"  word-spacing="1.77" stroke="#0c0c0c" stroke-width="0.3">DECIMALS:</text>
<text x="538.5" y="527.48" font-size="8.05" font-weight="bold" font-style="italic" fill="#0c0c0c" text-anchor="start" textLength="24.9" lengthAdjust="spacingAndGlyphs" transform="translate(538.5 524.58) skewX(-6) translate(-538.5 -524.58)" xml:space="preserve"  word-spacing="1.77" stroke="#0c0c0c" stroke-width="0.3">ANGLES:</text>
<text x="490.8" y="534.38" font-size="8.05" font-weight="bold" font-style="italic" fill="#0c0c0c" text-anchor="start" textLength="4.4" lengthAdjust="spacingAndGlyphs" transform="translate(490.8 531.48) skewX(-6) translate(-490.8 -531.48)" xml:space="preserve"  word-spacing="1.77" stroke="#0c0c0c" stroke-width="0.2">X</text>
<text x="511.5" y="534.38" font-size="8.05" font-weight="bold" font-style="italic" fill="#0c0c0c" text-anchor="start" textLength="15.9" lengthAdjust="spacingAndGlyphs" transform="translate(511.5 531.48) skewX(-6) translate(-511.5 -531.48)" xml:space="preserve"  word-spacing="1.77" stroke="#0c0c0c" stroke-width="0.15">:±0.5</text>
<text x="490.8" y="542.58" font-size="8.05" font-weight="bold" font-style="italic" fill="#0c0c0c" text-anchor="start" textLength="9.8" lengthAdjust="spacingAndGlyphs" transform="translate(490.8 539.68) skewX(-6) translate(-490.8 -539.68)" xml:space="preserve"  word-spacing="1.77" stroke="#0c0c0c" stroke-width="0.2">X.X</text>
<text x="511.5" y="542.58" font-size="8.05" font-weight="bold" font-style="italic" fill="#0c0c0c" text-anchor="start" textLength="15.9" lengthAdjust="spacingAndGlyphs" transform="translate(511.5 539.68) skewX(-6) translate(-511.5 -539.68)" xml:space="preserve"  word-spacing="1.77" stroke="#0c0c0c" stroke-width="0.15">:±0.3</text>
<text x="490.8" y="550.88" font-size="8.05" font-weight="bold" font-style="italic" fill="#0c0c0c" text-anchor="start" textLength="15.4" lengthAdjust="spacingAndGlyphs" transform="translate(490.8 547.98) skewX(-6) translate(-490.8 -547.98)" xml:space="preserve"  word-spacing="1.77" stroke="#0c0c0c" stroke-width="0.2">X.XX</text>
<text x="511.5" y="550.88" font-size="8.05" font-weight="bold" font-style="italic" fill="#0c0c0c" text-anchor="start" textLength="15.9" lengthAdjust="spacingAndGlyphs" transform="translate(511.5 547.98) skewX(-6) translate(-511.5 -547.98)" xml:space="preserve"  word-spacing="1.77" stroke="#0c0c0c" stroke-width="0.15">:±0.2</text>
<text x="490.8" y="559.18" font-size="8.05" font-weight="bold" font-style="italic" fill="#0c0c0c" text-anchor="start" textLength="19.6" lengthAdjust="spacingAndGlyphs" transform="translate(490.8 556.28) skewX(-6) translate(-490.8 -556.28)" xml:space="preserve"  word-spacing="1.77" stroke="#0c0c0c" stroke-width="0.2">X.XXX</text>
<text x="511.5" y="559.18" font-size="8.05" font-weight="bold" font-style="italic" fill="#0c0c0c" text-anchor="start" textLength="15.9" lengthAdjust="spacingAndGlyphs" transform="translate(511.5 556.28) skewX(-6) translate(-511.5 -556.28)" xml:space="preserve"  word-spacing="1.77" stroke="#0c0c0c" stroke-width="0.15">:±0.1</text>
<text x="538.5" y="536.38" font-size="8.05" font-weight="bold" font-style="italic" fill="#0c0c0c" text-anchor="start" textLength="4.4" lengthAdjust="spacingAndGlyphs" transform="translate(538.5 533.48) skewX(-6) translate(-538.5 -533.48)" xml:space="preserve"  word-spacing="1.77" stroke="#0c0c0c" stroke-width="0.2">X</text>
<text x="551.4" y="536.38" font-size="8.05" font-weight="bold" font-style="italic" fill="#0c0c0c" text-anchor="start" textLength="13.0" lengthAdjust="spacingAndGlyphs" transform="translate(551.4 533.48) skewX(-6) translate(-551.4 -533.48)" xml:space="preserve"  word-spacing="1.77" stroke="#0c0c0c" stroke-width="0.15">:±2’</text>
<text x="538.5" y="544.88" font-size="8.05" font-weight="bold" font-style="italic" fill="#0c0c0c" text-anchor="start" textLength="9.8" lengthAdjust="spacingAndGlyphs" transform="translate(538.5 541.98) skewX(-6) translate(-538.5 -541.98)" xml:space="preserve"  word-spacing="1.77" stroke="#0c0c0c" stroke-width="0.2">X.X</text>
<text x="551.4" y="544.88" font-size="8.05" font-weight="bold" font-style="italic" fill="#0c0c0c" text-anchor="start" textLength="13.0" lengthAdjust="spacingAndGlyphs" transform="translate(551.4 541.98) skewX(-6) translate(-551.4 -541.98)" xml:space="preserve"  word-spacing="1.77" stroke="#0c0c0c" stroke-width="0.15">:±1’</text>
<line x1="579.6" y1="269.5" x2="579.6" y2="561.5" stroke="#0c0c0c" stroke-width="1.26" />
<line x1="579.6" y1="269.5" x2="800.5" y2="269.5" stroke="#0c0c0c" stroke-width="1.26" />
<line x1="579.6" y1="454.1" x2="800.5" y2="454.1" stroke="#0c0c0c" stroke-width="1.26" />
<line x1="579.6" y1="489.1" x2="800.5" y2="489.1" stroke="#0c0c0c" stroke-width="1.38" />
<line x1="579.6" y1="502.8" x2="701.6" y2="502.8" stroke="#0c0c0c" stroke-width="1.15" />
<line x1="579.6" y1="517.3" x2="800.5" y2="517.3" stroke="#0c0c0c" stroke-width="1.15" />
<line x1="579.6" y1="531.9" x2="800.5" y2="531.9" stroke="#0c0c0c" stroke-width="1.15" />
<line x1="579.6" y1="546.8" x2="800.5" y2="546.8" stroke="#0c0c0c" stroke-width="1.15" />
<line x1="617.5" y1="489" x2="617.5" y2="517.3" stroke="#0c0c0c" stroke-width="1.15" />
<line x1="665.4" y1="489" x2="665.4" y2="517.3" stroke="#0c0c0c" stroke-width="1.15" />
<line x1="701.6" y1="489" x2="701.6" y2="517.3" stroke="#0c0c0c" stroke-width="1.15" />
<rect x="665.6" y="503" width="35.8" height="14.2" fill="none" stroke="#0c0c0c" stroke-width="1.61"/>
<line x1="654.6" y1="517.3" x2="654.6" y2="546.8" stroke="#0c0c0c" stroke-width="1.15" />
<line x1="730.4" y1="517.3" x2="730.4" y2="546.8" stroke="#0c0c0c" stroke-width="1.15" />
<text x="580.9" y="499.72" font-size="9.54" font-weight="normal" font-style="italic" fill="#0c0c0c" text-anchor="start" textLength="35.7" lengthAdjust="spacingAndGlyphs" transform="translate(580.9 496.29) skewX(-6) translate(-580.9 -496.29)" xml:space="preserve"  word-spacing="2.1" stroke="#0c0c0c" stroke-width="0.28">SCALE:1/1</text>
<text x="620.2" y="499.72" font-size="9.54" font-weight="normal" font-style="italic" fill="#0c0c0c" text-anchor="start" textLength="34.5" lengthAdjust="spacingAndGlyphs" transform="translate(620.2 496.29) skewX(-6) translate(-620.2 -496.29)" xml:space="preserve"  word-spacing="2.1" stroke="#0c0c0c" stroke-width="0.28">UNIT: mm</text>
<text x="707.8" y="499.32" font-size="9.54" font-weight="normal" font-style="italic" fill="#0c0c0c" text-anchor="start" textLength="28.2" lengthAdjust="spacingAndGlyphs" transform="translate(707.8 495.89) skewX(-6) translate(-707.8 -495.89)" xml:space="preserve"  word-spacing="2.1" stroke="#0c0c0c" stroke-width="0.28">DWG.NO:</text>
<text x="581.2" y="513.82" font-size="9.54" font-weight="normal" font-style="italic" fill="#0c0c0c" text-anchor="start" textLength="30.0" lengthAdjust="spacingAndGlyphs" transform="translate(581.2 510.39) skewX(-6) translate(-581.2 -510.39)" xml:space="preserve"  word-spacing="2.1" stroke="#0c0c0c" stroke-width="0.28">SIZE: A3</text>
<text x="620.2" y="513.82" font-size="9.54" font-weight="normal" font-style="italic" fill="#0c0c0c" text-anchor="start" textLength="45.1" lengthAdjust="spacingAndGlyphs" transform="translate(620.2 510.39) skewX(-6) translate(-620.2 -510.39)" xml:space="preserve"  word-spacing="2.1" stroke="#0c0c0c" stroke-width="0.28">PAGE:1 OF 1</text>
<text x="667.8" y="513.91" style="font-family:'Liberation Serif',serif" font-size="9.8" font-weight="bold" font-style="italic" fill="#0c0c0c" text-anchor="start" textLength="31.8" lengthAdjust="spacingAndGlyphs" xml:space="preserve"  stroke="#0c0c0c" stroke-width="0.35">REV:A03</text>
<text x="729" y="511.62" font-size="9.54" font-weight="normal" font-style="italic" fill="#0c0c0c" text-anchor="start" textLength="43.2" lengthAdjust="spacingAndGlyphs" transform="translate(729 508.19) skewX(-6) translate(-729 -508.19)" xml:space="preserve"  word-spacing="2.1" stroke="#0c0c0c" stroke-width="0.28">WI−061−034</text>
<text x="586.9" y="528.52" font-size="9.54" font-weight="normal" font-style="italic" fill="#0c0c0c" text-anchor="start" textLength="48.9" lengthAdjust="spacingAndGlyphs" transform="translate(586.9 525.09) skewX(-6) translate(-586.9 -525.09)" xml:space="preserve"  word-spacing="2.1" stroke="#0c0c0c" stroke-width="0.28">APPROVED BY</text>
<text x="658.4" y="528.52" font-size="9.54" font-weight="normal" font-style="italic" fill="#0c0c0c" text-anchor="start" textLength="45.2" lengthAdjust="spacingAndGlyphs" transform="translate(658.4 525.09) skewX(-6) translate(-658.4 -525.09)" xml:space="preserve"  word-spacing="2.1" stroke="#0c0c0c" stroke-width="0.28">CHECKED BY</text>
<text x="748.8" y="528.52" font-size="9.54" font-weight="normal" font-style="italic" fill="#0c0c0c" text-anchor="start" textLength="48.0" lengthAdjust="spacingAndGlyphs" transform="translate(748.8 525.09) skewX(-6) translate(-748.8 -525.09)" xml:space="preserve"  word-spacing="2.1" stroke="#0c0c0c" stroke-width="0.28">PREPARED BY</text>
<text x="587.7" y="544.92" font-size="9.54" font-weight="normal" font-style="italic" fill="#0c0c0c" text-anchor="start" textLength="15.6" lengthAdjust="spacingAndGlyphs" transform="translate(587.7 541.49) skewX(-6) translate(-587.7 -541.49)" xml:space="preserve"  word-spacing="2.1" stroke="#0c0c0c" stroke-width="0.28">DICK</text>
<text x="657.8" y="544.92" font-size="9.54" font-weight="normal" font-style="italic" fill="#0c0c0c" text-anchor="start" textLength="12.7" lengthAdjust="spacingAndGlyphs" transform="translate(657.8 541.49) skewX(-6) translate(-657.8 -541.49)" xml:space="preserve"  word-spacing="2.1" stroke="#0c0c0c" stroke-width="0.28">XSY</text>
<text x="733.2" y="544.92" font-size="9.54" font-weight="normal" font-style="italic" fill="#0c0c0c" text-anchor="start" textLength="12.8" lengthAdjust="spacingAndGlyphs" transform="translate(733.2 541.49) skewX(-6) translate(-733.2 -541.49)" xml:space="preserve"  word-spacing="2.1" stroke="#0c0c0c" stroke-width="0.28">XSY</text>
<text x="645.1" y="557.71" style="font-family:'Liberation Serif',serif" font-size="9.8" font-weight="bold" font-style="italic" fill="#0c0c0c" text-anchor="start" textLength="69.2" lengthAdjust="spacingAndGlyphs" xml:space="preserve"  stroke="#0c0c0c" stroke-width="0.35">CUSTOMER COPY</text>
<circle cx="674.5" cy="496" r="2.3" fill="none" stroke="#0c0c0c" stroke-width="1.3"/>
<circle cx="674.5" cy="496" r="4.0" fill="none" stroke="#0c0c0c" stroke-width="0.9"/>
<line x1="668.3" y1="496" x2="680.7" y2="496" stroke="#0c0c0c" stroke-width="1.15" />
<line x1="674.5" y1="489.8" x2="674.5" y2="502.2" stroke="#0c0c0c" stroke-width="1.15" />
<path d="M687 494.5 L697.5 492.6 L697.5 499.6 L687 497.8 Z" fill="none" stroke="#0c0c0c" stroke-width="1.15" stroke-linejoin="round"/>
<line x1="685" y1="496.1" x2="699.5" y2="496.1" stroke="#0c0c0c" stroke-width="0.8" />
<path d="M586 466.4 Q592 461.4 599 461.0 Q606 461.4 612 466.4 Q605.5 464.2 599 464.4 Q592.5 464.2 586 466.4 Z" fill="#111" stroke="#0c0c0c" stroke-width="0.8" stroke-linejoin="round" stroke-linecap="round"/>
<line x1="599" y1="459.4" x2="599" y2="461.5" stroke="#0c0c0c" stroke-width="1.15" />
<path d="M598.7 463 L598.7 479.6 L602 479.6 L602 477.6" fill="none" stroke="#333" stroke-width="1.03" stroke-linejoin="round" stroke-linecap="round"/>
<path d="M595.8 471.5 L595.8 477.4 M595.8 474.2 L598.7 474.2" fill="none" stroke="#777" stroke-width="1.03" stroke-linejoin="round" stroke-linecap="round"/>
<text x="588" y="486.0" style="font-family:'Liberation Serif',serif" font-size="5.6" font-weight="normal" font-style="normal" fill="#666" text-anchor="start" textLength="23.5" lengthAdjust="spacingAndGlyphs" xml:space="preserve" >Connector</text>
<text x="620.6 636.6 652.6 668.6 684.6 700.6 716.6 732.6 748.6 764.6 780.6" y="471.2" font-size="11" fill="#444" style="font-family:'Liberation Serif','Noto Serif CJK SC',serif">東莞市合陵電子有限公司</text>
<text x="622.5" y="483.48" style="font-family:'Liberation Serif',serif" font-size="10.0" font-weight="bold" font-style="normal" fill="#0c0c0c" text-anchor="start" textLength="165.0" lengthAdjust="spacingAndGlyphs" xml:space="preserve"  stroke="#0c0c0c" stroke-width="0.45">DongGuan HeLing Electronic Co.,LTD</text>
<text x="608.3" y="439.33" font-size="16.56" font-weight="normal" font-style="italic" fill="#3a3a3a" text-anchor="start" textLength="52.0" lengthAdjust="spacingAndGlyphs" transform="translate(608.3 433.37) skewX(-6) translate(-608.3 -433.37)" xml:space="preserve"  word-spacing="3.64">3D VIEW</text>
<path d="M602.36 314.7 L639.93 283.71 L695.7 306.95 L657.94 337.94 Z" fill="none" stroke="#0c0c0c" stroke-width="1.26" stroke-linejoin="round"/>
<path d="M602.36 314.7 L602.36 351.49" fill="none" stroke="#0c0c0c" stroke-width="1.26" stroke-linejoin="round"/>
<path d="M602.23 351.14 L655.61 372.28" fill="none" stroke="#0c0c0c" stroke-width="1.15" stroke-linejoin="round"/>
<path d="M603.13 317.6 L657.35 340.26" fill="none" stroke="#0c0c0c" stroke-width="0.92" stroke-linejoin="round"/>
<path d="M610.49 319.15 L627.92 326.32" fill="none" stroke="#0c0c0c" stroke-width="2.3" stroke-linejoin="round"/>
<path d="M631.79 327.87 L649.22 335.03" fill="none" stroke="#0c0c0c" stroke-width="2.3" stroke-linejoin="round"/>
<path d="M657.94 337.94 L657.35 379.57 L663.75 376.08 L664.13 335.42" fill="none" stroke="#0c0c0c" stroke-width="1.15" stroke-linejoin="round"/>
<path d="M660.84 337.35 L660.84 371.82" fill="none" stroke="#0c0c0c" stroke-width="0.92" stroke-linejoin="round"/>
<path d="M665.88 334.06 L665.88 372.79" fill="none" stroke="#0c0c0c" stroke-width="1.84" stroke-linejoin="round"/>
<path d="M667.04 333.09 L667.04 371.82 L695.7 349.55 L695.7 306.95" fill="none" stroke="#0c0c0c" stroke-width="1.15" stroke-linejoin="round"/>
<path d="M664.13 372.79 L667.04 371.82" fill="none" stroke="#0c0c0c" stroke-width="0.92" stroke-linejoin="round"/>
<path d="M659.31 354.84 L661.42 353.78 L661.42 363.3 L659.31 364.36 Z" fill="none" stroke="#0c0c0c" stroke-width="1.38" stroke-linejoin="round"/>
<path d="M603.07 351.67 L603.07 356.96 L605.93 358.33 L605.93 353.04" fill="none" stroke="#0c0c0c" stroke-width="1.03" stroke-linejoin="round"/>
<path d="M605.93 355.37 L608.57 356.43 L608.57 354.1" fill="#777" stroke="#0c0c0c" stroke-width="0.92" stroke-linejoin="round"/>
<path d="M612.27 355.9 L612.27 358.54 L615.44 359.6 L617.03 357.27" fill="none" stroke="#0c0c0c" stroke-width="0.92" stroke-linejoin="round"/>
<path d="M648.74 370.7 L648.74 373.34 L651.91 374.93 L651.91 371.75" fill="#777" stroke="#0c0c0c" stroke-width="0.92" stroke-linejoin="round"/>
<path d="M651.91 374.93 L655.08 376.3 L655.61 372.28" fill="none" stroke="#0c0c0c" stroke-width="0.92" stroke-linejoin="round"/>
<path d="M619.88 359.92 L614.38 366.89 L616.71 367.95 L622.21 360.97 Z" fill="#2a2a2a" stroke="#0c0c0c" stroke-width="0.57" stroke-linejoin="round"/>
<path d="M619.04 362.24 L615.65 366.68" fill="none" stroke="#aaa" stroke-width="0.57" stroke-linejoin="round"/>
<path d="M620.73 360.13 L621.57 360.55" fill="none" stroke="#fff" stroke-width="0.8" stroke-linejoin="round"/>
<path d="M623.16 361.31 L617.66 368.29 L619.99 369.34 L625.48 362.37 Z" fill="#2a2a2a" stroke="#0c0c0c" stroke-width="0.57" stroke-linejoin="round"/>
<path d="M622.31 363.64 L618.93 368.08" fill="none" stroke="#aaa" stroke-width="0.57" stroke-linejoin="round"/>
<path d="M624.0 361.52 L624.85 361.95" fill="none" stroke="#fff" stroke-width="0.8" stroke-linejoin="round"/>
<path d="M626.44 362.71 L620.94 369.68 L623.26 370.74 L628.76 363.76 Z" fill="#2a2a2a" stroke="#0c0c0c" stroke-width="0.57" stroke-linejoin="round"/>
<path d="M625.59 365.03 L622.21 369.47" fill="none" stroke="#aaa" stroke-width="0.57" stroke-linejoin="round"/>
<path d="M627.28 362.92 L628.13 363.34" fill="none" stroke="#fff" stroke-width="0.8" stroke-linejoin="round"/>
<path d="M629.71 364.1 L624.22 371.08 L626.54 372.14 L632.04 365.16 Z" fill="#2a2a2a" stroke="#0c0c0c" stroke-width="0.57" stroke-linejoin="round"/>
<path d="M628.87 366.43 L625.48 370.87" fill="none" stroke="#aaa" stroke-width="0.57" stroke-linejoin="round"/>
<path d="M630.56 364.31 L631.4 364.74" fill="none" stroke="#fff" stroke-width="0.8" stroke-linejoin="round"/>
<path d="M632.99 365.5 L627.49 372.47 L629.82 373.53 L635.32 366.55 Z" fill="#2a2a2a" stroke="#0c0c0c" stroke-width="0.57" stroke-linejoin="round"/>
<path d="M632.14 367.82 L628.76 372.26" fill="none" stroke="#aaa" stroke-width="0.57" stroke-linejoin="round"/>
<path d="M633.84 365.71 L634.68 366.13" fill="none" stroke="#fff" stroke-width="0.8" stroke-linejoin="round"/>
<path d="M636.27 366.89 L630.77 373.87 L633.1 374.93 L638.59 367.95 Z" fill="#2a2a2a" stroke="#0c0c0c" stroke-width="0.57" stroke-linejoin="round"/>
<path d="M635.42 369.22 L632.04 373.66" fill="none" stroke="#aaa" stroke-width="0.57" stroke-linejoin="round"/>
<path d="M637.11 367.1 L637.96 367.53" fill="none" stroke="#fff" stroke-width="0.8" stroke-linejoin="round"/>
<path d="M639.54 368.29 L634.05 375.26 L636.37 376.32 L641.87 369.34 Z" fill="#2a2a2a" stroke="#0c0c0c" stroke-width="0.57" stroke-linejoin="round"/>
<path d="M638.7 370.61 L635.32 375.05" fill="none" stroke="#aaa" stroke-width="0.57" stroke-linejoin="round"/>
<path d="M640.39 368.5 L641.23 368.92" fill="none" stroke="#fff" stroke-width="0.8" stroke-linejoin="round"/>
<path d="M642.82 369.68 L637.32 376.66 L639.65 377.72 L645.15 370.74 Z" fill="#2a2a2a" stroke="#0c0c0c" stroke-width="0.57" stroke-linejoin="round"/>
<path d="M641.97 372.01 L638.59 376.45" fill="none" stroke="#aaa" stroke-width="0.57" stroke-linejoin="round"/>
<path d="M643.67 369.89 L644.51 370.32" fill="none" stroke="#fff" stroke-width="0.8" stroke-linejoin="round"/>
<path d="M619.14 359.39 L646.1 371.01" fill="none" stroke="#0c0c0c" stroke-width="0.92" stroke-linejoin="round"/>
<path d="M678.27 366.01 L686.01 361.75 L690.27 363.11 L682.53 367.56 Z" fill="none" stroke="#0c0c0c" stroke-width="1.03" stroke-linejoin="round"/>
<path d="M672.46 370.27 L678.27 366.98" fill="none" stroke="#0c0c0c" stroke-width="0.92" stroke-linejoin="round"/>
<path d="M667.04 371.82 L672.46 369.5" fill="none" stroke="#0c0c0c" stroke-width="0.92" stroke-linejoin="round"/>
<path d="M695.14 374.86 L731.48 351.62 L788.11 369.58 L752.61 391.76 Z" fill="none" stroke="#0c0c0c" stroke-width="1.26" stroke-linejoin="round"/>
<path d="M695.14 374.86 L695.14 424.51 L751.55 442.89 L752.61 391.76" fill="none" stroke="#0c0c0c" stroke-width="1.26" stroke-linejoin="round"/>
<path d="M696.34 377.75 L751.97 395.63" fill="none" stroke="#0c0c0c" stroke-width="0.92" stroke-linejoin="round"/>
<path d="M754.72 392.82 L753.88 441.42 L751.55 442.89" fill="none" stroke="#0c0c0c" stroke-width="1.03" stroke-linejoin="round"/>
<path d="M753.88 441.42 L788.11 410.78 L788.11 369.58" fill="none" stroke="#0c0c0c" stroke-width="1.26" stroke-linejoin="round"/>
<path d="M781.13 374.23 L781.13 410.78 L784.3 412.89 L784.3 372.11" fill="none" stroke="#0c0c0c" stroke-width="0.92" stroke-linejoin="round"/>
<path d="M783.88 390.71 L786.42 389.65 L786.42 402.96 L783.88 404.02 Z" fill="#333" stroke="#0c0c0c" stroke-width="0.92" stroke-linejoin="round"/>
<path d="M781.13 410.78 L781.13 417.12" fill="none" stroke="#0c0c0c" stroke-width="0.92" stroke-linejoin="round"/>
<path d="M711.13 383.38 L711.13 391.13 L701.97 391.13 L701.97 418.59 L704.08 421.41 L744.23 433.38 L744.23 412.25" fill="none" stroke="#0c0c0c" stroke-width="1.15" stroke-linejoin="round"/>
<path d="M711.13 383.38 L732.25 389.72 L735.07 393.24" fill="none" stroke="#0c0c0c" stroke-width="1.15" stroke-linejoin="round"/>
<path d="M712.54 384.08 L712.54 389.72 L720.28 391.83 L720.28 386.62" fill="none" stroke="#0c0c0c" stroke-width="0.92" stroke-linejoin="round"/>
<path d="M712.54 388.03 L716.76 386.62 L721.69 388.03" fill="none" stroke="#0c0c0c" stroke-width="0.92" stroke-linejoin="round"/>
<path d="M716.76 382.39 L716.76 384.79 L731.55 389.01 L731.55 386.9 Z" fill="#555" stroke="#0c0c0c" stroke-width="1.03" stroke-linejoin="round"/>
<path d="M725.21 387.61 L725.21 403.1" fill="none" stroke="#0c0c0c" stroke-width="0.92" stroke-linejoin="round"/>
<path d="M732.25 389.72 L732.25 393.94" fill="none" stroke="#0c0c0c" stroke-width="0.92" stroke-linejoin="round"/>
<path d="M701.97 400.28 L716.76 395.63 L716.76 403.1 L701.97 408.31" fill="none" stroke="#0c0c0c" stroke-width="1.03" stroke-linejoin="round"/>
<path d="M713.24 396.76 L713.24 404.51" fill="none" stroke="#0c0c0c" stroke-width="0.92" stroke-linejoin="round"/>
<path d="M700.56 401.69 L700.56 412.25 L704.08 410.85 L704.08 400.28" fill="none" stroke="#0c0c0c" stroke-width="0.92" stroke-linejoin="round"/>
<path d="M720.28 391.83 L720.28 400.28 L716.76 401.69" fill="none" stroke="#0c0c0c" stroke-width="0.92" stroke-linejoin="round"/>
<path d="M711.13 418.17 L723.8 405.21 L730.85 395.35 L733.94 393.66 L736.48 400.28 L744.65 404.51 L746.06 416.48 L744.23 427.46 L740.0 428.87 Z" fill="#2c2c2c" stroke="#0c0c0c" stroke-width="0.69" stroke-linejoin="round"/>
<path d="M714.65 419.58 L726.9 403.52" fill="none" stroke="#d0d0d0" stroke-width="0.8" stroke-linejoin="round"/>
<path d="M718.31 420.77 L729.15 404.08" fill="none" stroke="#d0d0d0" stroke-width="0.8" stroke-linejoin="round"/>
<path d="M721.97 421.97 L731.41 404.65" fill="none" stroke="#d0d0d0" stroke-width="0.8" stroke-linejoin="round"/>
<path d="M725.63 423.17 L733.66 405.21" fill="none" stroke="#d0d0d0" stroke-width="0.8" stroke-linejoin="round"/>
<path d="M729.3 424.37 L735.92 405.77" fill="none" stroke="#d0d0d0" stroke-width="0.8" stroke-linejoin="round"/>
<path d="M732.96 425.56 L738.17 406.34" fill="none" stroke="#d0d0d0" stroke-width="0.8" stroke-linejoin="round"/>
<path d="M736.62 426.76 L740.42 406.9" fill="none" stroke="#d0d0d0" stroke-width="0.8" stroke-linejoin="round"/>
<path d="M740.28 427.96 L742.68 407.46" fill="none" stroke="#d0d0d0" stroke-width="0.8" stroke-linejoin="round"/>
<path d="M704.08 418.59 L711.13 416.48 L742.82 426.62" fill="none" stroke="#0c0c0c" stroke-width="1.03" stroke-linejoin="round"/>
<path d="M706.9 420.7 L741.41 430.85 L744.23 429.15" fill="none" stroke="#0c0c0c" stroke-width="0.92" stroke-linejoin="round"/>
<path d="M741.41 430.85 L741.41 432.68" fill="none" stroke="#0c0c0c" stroke-width="0.92" stroke-linejoin="round"/>
<path d="M756.84 439.3 L766.34 434.02 L771.63 435.5 L762.12 440.99 Z" fill="none" stroke="#0c0c0c" stroke-width="1.03" stroke-linejoin="round"/>
<path d="M754.72 440.99 L757.89 439.3" fill="none" stroke="#0c0c0c" stroke-width="0.92" stroke-linejoin="round"/>
</svg>
</body></html>
